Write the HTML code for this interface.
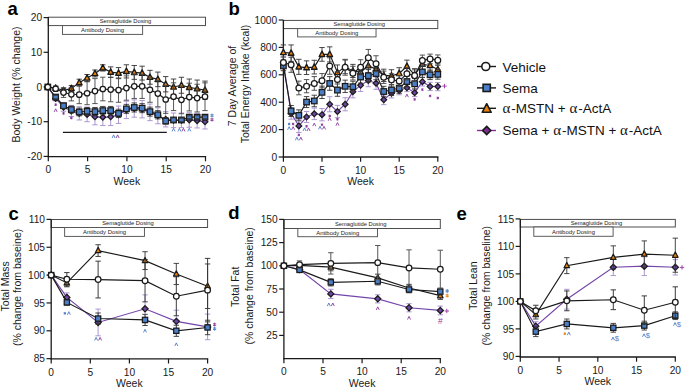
<!DOCTYPE html><html><head><meta charset="utf-8"><style>html,body{margin:0;padding:0;background:#fff;width:685px;height:388px;overflow:hidden}</style></head><body><svg width="685" height="388" viewBox="0 0 685 388" style="font-family:'Liberation Sans', sans-serif;display:block">
<rect width="685" height="388" fill="#fff"/>
<rect x="48.30" y="17.20" width="157.20" height="8.40" fill="#fff" stroke="#444" stroke-width="0.95"/>
<text x="125.50" y="23.30" font-size="6.2" text-anchor="middle" fill="#1a1a1a" font-weight="normal" textLength="51.5" lengthAdjust="spacingAndGlyphs">Semaglutide Dosing</text>
<rect x="62.52" y="25.60" width="80.10" height="8.80" fill="#fff" stroke="#555" stroke-width="0.95"/>
<text x="102.57" y="31.90" font-size="6.2" text-anchor="middle" fill="#1a1a1a" font-weight="normal" textLength="43" lengthAdjust="spacingAndGlyphs">Antibody Dosing</text>
<line x1="48.30" y1="17.00" x2="48.30" y2="157.20" stroke="#1a1a1a" stroke-width="1.3"/>
<line x1="47.70" y1="156.60" x2="206.10" y2="156.60" stroke="#1a1a1a" stroke-width="1.3"/>
<line x1="43.60" y1="17.60" x2="48.30" y2="17.60" stroke="#1a1a1a" stroke-width="1.2"/>
<text x="42.10" y="21.20" font-size="10.2" text-anchor="end" fill="#1a1a1a" font-weight="normal">20</text>
<line x1="43.60" y1="52.30" x2="48.30" y2="52.30" stroke="#1a1a1a" stroke-width="1.2"/>
<text x="42.10" y="55.90" font-size="10.2" text-anchor="end" fill="#1a1a1a" font-weight="normal">10</text>
<line x1="43.60" y1="87.00" x2="48.30" y2="87.00" stroke="#1a1a1a" stroke-width="1.2"/>
<text x="42.10" y="90.60" font-size="10.2" text-anchor="end" fill="#1a1a1a" font-weight="normal">0</text>
<line x1="43.60" y1="121.70" x2="48.30" y2="121.70" stroke="#1a1a1a" stroke-width="1.2"/>
<text x="42.10" y="125.30" font-size="10.2" text-anchor="end" fill="#1a1a1a" font-weight="normal">-10</text>
<line x1="43.60" y1="156.40" x2="48.30" y2="156.40" stroke="#1a1a1a" stroke-width="1.2"/>
<text x="42.10" y="160.00" font-size="10.2" text-anchor="end" fill="#1a1a1a" font-weight="normal">-20</text>
<line x1="48.30" y1="156.60" x2="48.30" y2="161.30" stroke="#1a1a1a" stroke-width="1.2"/>
<text x="48.30" y="173.40" font-size="10.2" text-anchor="middle" fill="#1a1a1a" font-weight="normal">0</text>
<line x1="87.60" y1="156.60" x2="87.60" y2="161.30" stroke="#1a1a1a" stroke-width="1.2"/>
<text x="87.60" y="173.40" font-size="10.2" text-anchor="middle" fill="#1a1a1a" font-weight="normal">5</text>
<line x1="126.90" y1="156.60" x2="126.90" y2="161.30" stroke="#1a1a1a" stroke-width="1.2"/>
<text x="126.90" y="173.40" font-size="10.2" text-anchor="middle" fill="#1a1a1a" font-weight="normal">10</text>
<line x1="166.20" y1="156.60" x2="166.20" y2="161.30" stroke="#1a1a1a" stroke-width="1.2"/>
<text x="166.20" y="173.40" font-size="10.2" text-anchor="middle" fill="#1a1a1a" font-weight="normal">15</text>
<line x1="205.50" y1="156.60" x2="205.50" y2="161.30" stroke="#1a1a1a" stroke-width="1.2"/>
<text x="205.50" y="173.40" font-size="10.2" text-anchor="middle" fill="#1a1a1a" font-weight="normal">20</text>
<text x="126.90" y="184.80" font-size="10.5" text-anchor="middle" fill="#1a1a1a" font-weight="normal">Week</text>
<text x="19.50" y="84.50" font-size="10.5" text-anchor="middle" fill="#1a1a1a" font-weight="normal" transform="rotate(-90 19.5 84.5)">Body Weight (% change)</text>
<text x="7.50" y="14.50" font-size="18.5" text-anchor="start" fill="#000" font-weight="bold">a</text>
<line x1="55.66" y1="96.02" x2="55.66" y2="100.88" stroke="#a58ccc" stroke-width="0.9"/>
<line x1="52.96" y1="96.02" x2="58.36" y2="96.02" stroke="#a58ccc" stroke-width="0.9"/>
<line x1="52.96" y1="100.88" x2="58.36" y2="100.88" stroke="#a58ccc" stroke-width="0.9"/>
<line x1="63.52" y1="102.96" x2="63.52" y2="111.29" stroke="#a58ccc" stroke-width="0.9"/>
<line x1="60.82" y1="102.96" x2="66.22" y2="102.96" stroke="#a58ccc" stroke-width="0.9"/>
<line x1="60.82" y1="111.29" x2="66.22" y2="111.29" stroke="#a58ccc" stroke-width="0.9"/>
<line x1="71.38" y1="105.39" x2="71.38" y2="116.50" stroke="#a58ccc" stroke-width="0.9"/>
<line x1="68.68" y1="105.39" x2="74.08" y2="105.39" stroke="#a58ccc" stroke-width="0.9"/>
<line x1="68.68" y1="116.50" x2="74.08" y2="116.50" stroke="#a58ccc" stroke-width="0.9"/>
<line x1="79.24" y1="106.78" x2="79.24" y2="119.97" stroke="#a58ccc" stroke-width="0.9"/>
<line x1="76.54" y1="106.78" x2="81.94" y2="106.78" stroke="#a58ccc" stroke-width="0.9"/>
<line x1="76.54" y1="119.97" x2="81.94" y2="119.97" stroke="#a58ccc" stroke-width="0.9"/>
<line x1="87.10" y1="107.13" x2="87.10" y2="121.70" stroke="#a58ccc" stroke-width="0.9"/>
<line x1="84.40" y1="107.13" x2="89.80" y2="107.13" stroke="#a58ccc" stroke-width="0.9"/>
<line x1="84.40" y1="121.70" x2="89.80" y2="121.70" stroke="#a58ccc" stroke-width="0.9"/>
<line x1="94.96" y1="108.86" x2="94.96" y2="124.82" stroke="#a58ccc" stroke-width="0.9"/>
<line x1="92.26" y1="108.86" x2="97.66" y2="108.86" stroke="#a58ccc" stroke-width="0.9"/>
<line x1="92.26" y1="124.82" x2="97.66" y2="124.82" stroke="#a58ccc" stroke-width="0.9"/>
<line x1="102.82" y1="108.86" x2="102.82" y2="125.52" stroke="#a58ccc" stroke-width="0.9"/>
<line x1="100.12" y1="108.86" x2="105.52" y2="108.86" stroke="#a58ccc" stroke-width="0.9"/>
<line x1="100.12" y1="125.52" x2="105.52" y2="125.52" stroke="#a58ccc" stroke-width="0.9"/>
<line x1="110.68" y1="108.17" x2="110.68" y2="125.52" stroke="#a58ccc" stroke-width="0.9"/>
<line x1="107.98" y1="108.17" x2="113.38" y2="108.17" stroke="#a58ccc" stroke-width="0.9"/>
<line x1="107.98" y1="125.52" x2="113.38" y2="125.52" stroke="#a58ccc" stroke-width="0.9"/>
<line x1="118.54" y1="106.09" x2="118.54" y2="123.44" stroke="#a58ccc" stroke-width="0.9"/>
<line x1="115.84" y1="106.09" x2="121.24" y2="106.09" stroke="#a58ccc" stroke-width="0.9"/>
<line x1="115.84" y1="123.44" x2="121.24" y2="123.44" stroke="#a58ccc" stroke-width="0.9"/>
<line x1="126.40" y1="101.23" x2="126.40" y2="118.58" stroke="#a58ccc" stroke-width="0.9"/>
<line x1="123.70" y1="101.23" x2="129.10" y2="101.23" stroke="#a58ccc" stroke-width="0.9"/>
<line x1="123.70" y1="118.58" x2="129.10" y2="118.58" stroke="#a58ccc" stroke-width="0.9"/>
<line x1="134.26" y1="99.84" x2="134.26" y2="117.19" stroke="#a58ccc" stroke-width="0.9"/>
<line x1="131.56" y1="99.84" x2="136.96" y2="99.84" stroke="#a58ccc" stroke-width="0.9"/>
<line x1="131.56" y1="117.19" x2="136.96" y2="117.19" stroke="#a58ccc" stroke-width="0.9"/>
<line x1="142.12" y1="100.53" x2="142.12" y2="117.88" stroke="#a58ccc" stroke-width="0.9"/>
<line x1="139.42" y1="100.53" x2="144.82" y2="100.53" stroke="#a58ccc" stroke-width="0.9"/>
<line x1="139.42" y1="117.88" x2="144.82" y2="117.88" stroke="#a58ccc" stroke-width="0.9"/>
<line x1="149.98" y1="104.00" x2="149.98" y2="120.66" stroke="#a58ccc" stroke-width="0.9"/>
<line x1="147.28" y1="104.00" x2="152.68" y2="104.00" stroke="#a58ccc" stroke-width="0.9"/>
<line x1="147.28" y1="120.66" x2="152.68" y2="120.66" stroke="#a58ccc" stroke-width="0.9"/>
<line x1="157.84" y1="107.82" x2="157.84" y2="123.78" stroke="#a58ccc" stroke-width="0.9"/>
<line x1="155.14" y1="107.82" x2="160.54" y2="107.82" stroke="#a58ccc" stroke-width="0.9"/>
<line x1="155.14" y1="123.78" x2="160.54" y2="123.78" stroke="#a58ccc" stroke-width="0.9"/>
<line x1="165.70" y1="111.64" x2="165.70" y2="126.91" stroke="#a58ccc" stroke-width="0.9"/>
<line x1="163.00" y1="111.64" x2="168.40" y2="111.64" stroke="#a58ccc" stroke-width="0.9"/>
<line x1="163.00" y1="126.91" x2="168.40" y2="126.91" stroke="#a58ccc" stroke-width="0.9"/>
<line x1="173.56" y1="113.03" x2="173.56" y2="127.60" stroke="#a58ccc" stroke-width="0.9"/>
<line x1="170.86" y1="113.03" x2="176.26" y2="113.03" stroke="#a58ccc" stroke-width="0.9"/>
<line x1="170.86" y1="127.60" x2="176.26" y2="127.60" stroke="#a58ccc" stroke-width="0.9"/>
<line x1="181.42" y1="113.03" x2="181.42" y2="127.60" stroke="#a58ccc" stroke-width="0.9"/>
<line x1="178.72" y1="113.03" x2="184.12" y2="113.03" stroke="#a58ccc" stroke-width="0.9"/>
<line x1="178.72" y1="127.60" x2="184.12" y2="127.60" stroke="#a58ccc" stroke-width="0.9"/>
<line x1="189.28" y1="112.68" x2="189.28" y2="127.25" stroke="#a58ccc" stroke-width="0.9"/>
<line x1="186.58" y1="112.68" x2="191.98" y2="112.68" stroke="#a58ccc" stroke-width="0.9"/>
<line x1="186.58" y1="127.25" x2="191.98" y2="127.25" stroke="#a58ccc" stroke-width="0.9"/>
<line x1="197.14" y1="113.37" x2="197.14" y2="127.95" stroke="#a58ccc" stroke-width="0.9"/>
<line x1="194.44" y1="113.37" x2="199.84" y2="113.37" stroke="#a58ccc" stroke-width="0.9"/>
<line x1="194.44" y1="127.95" x2="199.84" y2="127.95" stroke="#a58ccc" stroke-width="0.9"/>
<line x1="205.00" y1="114.41" x2="205.00" y2="128.99" stroke="#a58ccc" stroke-width="0.9"/>
<line x1="202.30" y1="114.41" x2="207.70" y2="114.41" stroke="#a58ccc" stroke-width="0.9"/>
<line x1="202.30" y1="128.99" x2="207.70" y2="128.99" stroke="#a58ccc" stroke-width="0.9"/>
<polyline points="47.80,87.00 55.66,98.45 63.52,107.13 71.38,110.94 79.24,113.37 87.10,114.41 94.96,116.84 102.82,117.19 110.68,116.84 118.54,114.76 126.40,109.90 134.26,108.51 142.12,109.21 149.98,112.33 157.84,115.80 165.70,119.27 173.56,120.31 181.42,120.31 189.28,119.97 197.14,120.66 205.00,121.70" fill="none" stroke="#7446aa" stroke-width="1.15"/>
<polygon points="47.80,84.12 50.67,87.00 47.80,89.88 44.92,87.00" fill="#6c46a0" stroke="#1a1a1a" stroke-width="1.25"/>
<polygon points="55.66,95.58 58.53,98.45 55.66,101.33 52.78,98.45" fill="#6c46a0" stroke="#1a1a1a" stroke-width="1.25"/>
<polygon points="63.52,104.25 66.39,107.13 63.52,110.00 60.64,107.13" fill="#6c46a0" stroke="#1a1a1a" stroke-width="1.25"/>
<polygon points="71.38,108.07 74.25,110.94 71.38,113.82 68.50,110.94" fill="#6c46a0" stroke="#1a1a1a" stroke-width="1.25"/>
<polygon points="79.24,110.50 82.11,113.37 79.24,116.25 76.36,113.37" fill="#6c46a0" stroke="#1a1a1a" stroke-width="1.25"/>
<polygon points="87.10,111.54 89.97,114.41 87.10,117.29 84.22,114.41" fill="#6c46a0" stroke="#1a1a1a" stroke-width="1.25"/>
<polygon points="94.96,113.97 97.84,116.84 94.96,119.72 92.09,116.84" fill="#6c46a0" stroke="#1a1a1a" stroke-width="1.25"/>
<polygon points="102.82,114.31 105.69,117.19 102.82,120.06 99.94,117.19" fill="#6c46a0" stroke="#1a1a1a" stroke-width="1.25"/>
<polygon points="110.68,113.97 113.56,116.84 110.68,119.72 107.81,116.84" fill="#6c46a0" stroke="#1a1a1a" stroke-width="1.25"/>
<polygon points="118.54,111.89 121.42,114.76 118.54,117.64 115.67,114.76" fill="#6c46a0" stroke="#1a1a1a" stroke-width="1.25"/>
<polygon points="126.40,107.03 129.28,109.90 126.40,112.78 123.53,109.90" fill="#6c46a0" stroke="#1a1a1a" stroke-width="1.25"/>
<polygon points="134.26,105.64 137.13,108.51 134.26,111.39 131.38,108.51" fill="#6c46a0" stroke="#1a1a1a" stroke-width="1.25"/>
<polygon points="142.12,106.33 145.00,109.21 142.12,112.08 139.25,109.21" fill="#6c46a0" stroke="#1a1a1a" stroke-width="1.25"/>
<polygon points="149.98,109.46 152.86,112.33 149.98,115.21 147.11,112.33" fill="#6c46a0" stroke="#1a1a1a" stroke-width="1.25"/>
<polygon points="157.84,112.93 160.72,115.80 157.84,118.68 154.97,115.80" fill="#6c46a0" stroke="#1a1a1a" stroke-width="1.25"/>
<polygon points="165.70,116.40 168.57,119.27 165.70,122.15 162.82,119.27" fill="#6c46a0" stroke="#1a1a1a" stroke-width="1.25"/>
<polygon points="173.56,117.44 176.44,120.31 173.56,123.19 170.69,120.31" fill="#6c46a0" stroke="#1a1a1a" stroke-width="1.25"/>
<polygon points="181.42,117.44 184.30,120.31 181.42,123.19 178.55,120.31" fill="#6c46a0" stroke="#1a1a1a" stroke-width="1.25"/>
<polygon points="189.28,117.09 192.16,119.97 189.28,122.84 186.41,119.97" fill="#6c46a0" stroke="#1a1a1a" stroke-width="1.25"/>
<polygon points="197.14,117.78 200.01,120.66 197.14,123.53 194.26,120.66" fill="#6c46a0" stroke="#1a1a1a" stroke-width="1.25"/>
<polygon points="205.00,118.83 207.88,121.70 205.00,124.58 202.12,121.70" fill="#6c46a0" stroke="#1a1a1a" stroke-width="1.25"/>
<line x1="55.66" y1="86.65" x2="55.66" y2="89.43" stroke="#333" stroke-width="0.9"/>
<line x1="52.96" y1="86.65" x2="58.36" y2="86.65" stroke="#333" stroke-width="0.9"/>
<line x1="52.96" y1="89.43" x2="58.36" y2="89.43" stroke="#333" stroke-width="0.9"/>
<line x1="63.52" y1="88.39" x2="63.52" y2="92.55" stroke="#333" stroke-width="0.9"/>
<line x1="60.82" y1="88.39" x2="66.22" y2="88.39" stroke="#333" stroke-width="0.9"/>
<line x1="60.82" y1="92.55" x2="66.22" y2="92.55" stroke="#333" stroke-width="0.9"/>
<line x1="71.38" y1="85.61" x2="71.38" y2="91.16" stroke="#333" stroke-width="0.9"/>
<line x1="68.68" y1="85.61" x2="74.08" y2="85.61" stroke="#333" stroke-width="0.9"/>
<line x1="68.68" y1="91.16" x2="74.08" y2="91.16" stroke="#333" stroke-width="0.9"/>
<line x1="79.24" y1="79.19" x2="79.24" y2="86.13" stroke="#333" stroke-width="0.9"/>
<line x1="76.54" y1="79.19" x2="81.94" y2="79.19" stroke="#333" stroke-width="0.9"/>
<line x1="76.54" y1="86.13" x2="81.94" y2="86.13" stroke="#333" stroke-width="0.9"/>
<line x1="87.10" y1="74.51" x2="87.10" y2="81.45" stroke="#333" stroke-width="0.9"/>
<line x1="84.40" y1="74.51" x2="89.80" y2="74.51" stroke="#333" stroke-width="0.9"/>
<line x1="84.40" y1="81.45" x2="89.80" y2="81.45" stroke="#333" stroke-width="0.9"/>
<line x1="94.96" y1="70.00" x2="94.96" y2="76.94" stroke="#333" stroke-width="0.9"/>
<line x1="92.26" y1="70.00" x2="97.66" y2="70.00" stroke="#333" stroke-width="0.9"/>
<line x1="92.26" y1="76.94" x2="97.66" y2="76.94" stroke="#333" stroke-width="0.9"/>
<line x1="102.82" y1="64.79" x2="102.82" y2="71.04" stroke="#333" stroke-width="0.9"/>
<line x1="100.12" y1="64.79" x2="105.52" y2="64.79" stroke="#333" stroke-width="0.9"/>
<line x1="100.12" y1="71.04" x2="105.52" y2="71.04" stroke="#333" stroke-width="0.9"/>
<line x1="110.68" y1="66.87" x2="110.68" y2="77.28" stroke="#333" stroke-width="0.9"/>
<line x1="107.98" y1="66.87" x2="113.38" y2="66.87" stroke="#333" stroke-width="0.9"/>
<line x1="107.98" y1="77.28" x2="113.38" y2="77.28" stroke="#333" stroke-width="0.9"/>
<line x1="118.54" y1="67.57" x2="118.54" y2="78.67" stroke="#333" stroke-width="0.9"/>
<line x1="115.84" y1="67.57" x2="121.24" y2="67.57" stroke="#333" stroke-width="0.9"/>
<line x1="115.84" y1="78.67" x2="121.24" y2="78.67" stroke="#333" stroke-width="0.9"/>
<line x1="126.40" y1="64.79" x2="126.40" y2="77.98" stroke="#333" stroke-width="0.9"/>
<line x1="123.70" y1="64.79" x2="129.10" y2="64.79" stroke="#333" stroke-width="0.9"/>
<line x1="123.70" y1="77.98" x2="129.10" y2="77.98" stroke="#333" stroke-width="0.9"/>
<line x1="134.26" y1="65.49" x2="134.26" y2="79.37" stroke="#333" stroke-width="0.9"/>
<line x1="131.56" y1="65.49" x2="136.96" y2="65.49" stroke="#333" stroke-width="0.9"/>
<line x1="131.56" y1="79.37" x2="136.96" y2="79.37" stroke="#333" stroke-width="0.9"/>
<line x1="142.12" y1="66.18" x2="142.12" y2="80.06" stroke="#333" stroke-width="0.9"/>
<line x1="139.42" y1="66.18" x2="144.82" y2="66.18" stroke="#333" stroke-width="0.9"/>
<line x1="139.42" y1="80.06" x2="144.82" y2="80.06" stroke="#333" stroke-width="0.9"/>
<line x1="149.98" y1="70.34" x2="149.98" y2="84.22" stroke="#333" stroke-width="0.9"/>
<line x1="147.28" y1="70.34" x2="152.68" y2="70.34" stroke="#333" stroke-width="0.9"/>
<line x1="147.28" y1="84.22" x2="152.68" y2="84.22" stroke="#333" stroke-width="0.9"/>
<line x1="157.84" y1="72.08" x2="157.84" y2="86.65" stroke="#333" stroke-width="0.9"/>
<line x1="155.14" y1="72.08" x2="160.54" y2="72.08" stroke="#333" stroke-width="0.9"/>
<line x1="155.14" y1="86.65" x2="160.54" y2="86.65" stroke="#333" stroke-width="0.9"/>
<line x1="165.70" y1="76.59" x2="165.70" y2="91.86" stroke="#333" stroke-width="0.9"/>
<line x1="163.00" y1="76.59" x2="168.40" y2="76.59" stroke="#333" stroke-width="0.9"/>
<line x1="163.00" y1="91.86" x2="168.40" y2="91.86" stroke="#333" stroke-width="0.9"/>
<line x1="173.56" y1="79.02" x2="173.56" y2="94.98" stroke="#333" stroke-width="0.9"/>
<line x1="170.86" y1="79.02" x2="176.26" y2="79.02" stroke="#333" stroke-width="0.9"/>
<line x1="170.86" y1="94.98" x2="176.26" y2="94.98" stroke="#333" stroke-width="0.9"/>
<line x1="181.42" y1="77.28" x2="181.42" y2="93.25" stroke="#333" stroke-width="0.9"/>
<line x1="178.72" y1="77.28" x2="184.12" y2="77.28" stroke="#333" stroke-width="0.9"/>
<line x1="178.72" y1="93.25" x2="184.12" y2="93.25" stroke="#333" stroke-width="0.9"/>
<line x1="189.28" y1="79.02" x2="189.28" y2="95.67" stroke="#333" stroke-width="0.9"/>
<line x1="186.58" y1="79.02" x2="191.98" y2="79.02" stroke="#333" stroke-width="0.9"/>
<line x1="186.58" y1="95.67" x2="191.98" y2="95.67" stroke="#333" stroke-width="0.9"/>
<line x1="197.14" y1="80.06" x2="197.14" y2="97.41" stroke="#333" stroke-width="0.9"/>
<line x1="194.44" y1="80.06" x2="199.84" y2="80.06" stroke="#333" stroke-width="0.9"/>
<line x1="194.44" y1="97.41" x2="199.84" y2="97.41" stroke="#333" stroke-width="0.9"/>
<line x1="205.00" y1="81.10" x2="205.00" y2="99.14" stroke="#333" stroke-width="0.9"/>
<line x1="202.30" y1="81.10" x2="207.70" y2="81.10" stroke="#333" stroke-width="0.9"/>
<line x1="202.30" y1="99.14" x2="207.70" y2="99.14" stroke="#333" stroke-width="0.9"/>
<polyline points="47.80,87.00 55.66,88.04 63.52,90.47 71.38,88.39 79.24,82.66 87.10,77.98 94.96,73.47 102.82,67.91 110.68,72.08 118.54,73.12 126.40,71.39 134.26,72.43 142.12,73.12 149.98,77.28 157.84,79.37 165.70,84.22 173.56,87.00 181.42,85.27 189.28,87.35 197.14,88.73 205.00,90.12" fill="none" stroke="#1a1a1a" stroke-width="1.15"/>
<polygon points="47.80,83.75 50.62,89.12 44.97,89.12" fill="#e8820e" stroke="#1a1a1a" stroke-width="1.35" stroke-linejoin="round"/>
<polygon points="55.66,84.79 58.48,90.16 52.83,90.16" fill="#e8820e" stroke="#1a1a1a" stroke-width="1.35" stroke-linejoin="round"/>
<polygon points="63.52,87.22 66.34,92.59 60.69,92.59" fill="#e8820e" stroke="#1a1a1a" stroke-width="1.35" stroke-linejoin="round"/>
<polygon points="71.38,85.14 74.20,90.51 68.55,90.51" fill="#e8820e" stroke="#1a1a1a" stroke-width="1.35" stroke-linejoin="round"/>
<polygon points="79.24,79.41 82.06,84.78 76.41,84.78" fill="#e8820e" stroke="#1a1a1a" stroke-width="1.35" stroke-linejoin="round"/>
<polygon points="87.10,74.73 89.92,80.10 84.27,80.10" fill="#e8820e" stroke="#1a1a1a" stroke-width="1.35" stroke-linejoin="round"/>
<polygon points="94.96,70.22 97.79,75.59 92.14,75.59" fill="#e8820e" stroke="#1a1a1a" stroke-width="1.35" stroke-linejoin="round"/>
<polygon points="102.82,64.67 105.64,70.03 99.99,70.03" fill="#e8820e" stroke="#1a1a1a" stroke-width="1.35" stroke-linejoin="round"/>
<polygon points="110.68,68.83 113.51,74.20 107.86,74.20" fill="#e8820e" stroke="#1a1a1a" stroke-width="1.35" stroke-linejoin="round"/>
<polygon points="118.54,69.87 121.37,75.24 115.72,75.24" fill="#e8820e" stroke="#1a1a1a" stroke-width="1.35" stroke-linejoin="round"/>
<polygon points="126.40,68.14 129.22,73.50 123.58,73.50" fill="#e8820e" stroke="#1a1a1a" stroke-width="1.35" stroke-linejoin="round"/>
<polygon points="134.26,69.18 137.08,74.54 131.44,74.54" fill="#e8820e" stroke="#1a1a1a" stroke-width="1.35" stroke-linejoin="round"/>
<polygon points="142.12,69.87 144.94,75.24 139.30,75.24" fill="#e8820e" stroke="#1a1a1a" stroke-width="1.35" stroke-linejoin="round"/>
<polygon points="149.98,74.04 152.81,79.40 147.16,79.40" fill="#e8820e" stroke="#1a1a1a" stroke-width="1.35" stroke-linejoin="round"/>
<polygon points="157.84,76.12 160.66,81.48 155.02,81.48" fill="#e8820e" stroke="#1a1a1a" stroke-width="1.35" stroke-linejoin="round"/>
<polygon points="165.70,80.98 168.52,86.34 162.88,86.34" fill="#e8820e" stroke="#1a1a1a" stroke-width="1.35" stroke-linejoin="round"/>
<polygon points="173.56,83.75 176.38,89.12 170.74,89.12" fill="#e8820e" stroke="#1a1a1a" stroke-width="1.35" stroke-linejoin="round"/>
<polygon points="181.42,82.02 184.25,87.38 178.60,87.38" fill="#e8820e" stroke="#1a1a1a" stroke-width="1.35" stroke-linejoin="round"/>
<polygon points="189.28,84.10 192.11,89.47 186.46,89.47" fill="#e8820e" stroke="#1a1a1a" stroke-width="1.35" stroke-linejoin="round"/>
<polygon points="197.14,85.49 199.96,90.85 194.31,90.85" fill="#e8820e" stroke="#1a1a1a" stroke-width="1.35" stroke-linejoin="round"/>
<polygon points="205.00,86.87 207.82,92.24 202.18,92.24" fill="#e8820e" stroke="#1a1a1a" stroke-width="1.35" stroke-linejoin="round"/>
<line x1="55.66" y1="95.33" x2="55.66" y2="98.80" stroke="#333" stroke-width="0.9"/>
<line x1="63.52" y1="102.96" x2="63.52" y2="108.51" stroke="#333" stroke-width="0.9"/>
<line x1="71.38" y1="106.09" x2="71.38" y2="113.03" stroke="#333" stroke-width="0.9"/>
<line x1="79.24" y1="108.17" x2="79.24" y2="115.80" stroke="#333" stroke-width="0.9"/>
<line x1="87.10" y1="107.47" x2="87.10" y2="115.11" stroke="#333" stroke-width="0.9"/>
<line x1="94.96" y1="107.47" x2="94.96" y2="115.80" stroke="#333" stroke-width="0.9"/>
<line x1="102.82" y1="106.43" x2="102.82" y2="114.76" stroke="#333" stroke-width="0.9"/>
<line x1="110.68" y1="106.43" x2="110.68" y2="114.76" stroke="#333" stroke-width="0.9"/>
<line x1="118.54" y1="109.21" x2="118.54" y2="117.54" stroke="#333" stroke-width="0.9"/>
<line x1="126.40" y1="104.35" x2="126.40" y2="113.37" stroke="#333" stroke-width="0.9"/>
<line x1="134.26" y1="102.96" x2="134.26" y2="111.98" stroke="#333" stroke-width="0.9"/>
<line x1="142.12" y1="103.66" x2="142.12" y2="112.68" stroke="#333" stroke-width="0.9"/>
<line x1="149.98" y1="107.13" x2="149.98" y2="116.15" stroke="#333" stroke-width="0.9"/>
<line x1="157.84" y1="110.60" x2="157.84" y2="118.92" stroke="#333" stroke-width="0.9"/>
<line x1="165.70" y1="117.88" x2="165.70" y2="124.13" stroke="#333" stroke-width="0.9"/>
<line x1="173.56" y1="117.88" x2="173.56" y2="122.05" stroke="#333" stroke-width="0.9"/>
<line x1="181.42" y1="118.23" x2="181.42" y2="121.70" stroke="#333" stroke-width="0.9"/>
<line x1="189.28" y1="115.80" x2="189.28" y2="118.58" stroke="#333" stroke-width="0.9"/>
<line x1="197.14" y1="115.80" x2="197.14" y2="118.58" stroke="#333" stroke-width="0.9"/>
<line x1="205.00" y1="115.80" x2="205.00" y2="118.58" stroke="#333" stroke-width="0.9"/>
<polyline points="47.80,87.00 55.66,97.06 63.52,105.74 71.38,109.56 79.24,111.98 87.10,111.29 94.96,111.64 102.82,110.60 110.68,110.60 118.54,113.37 126.40,108.86 134.26,107.47 142.12,108.17 149.98,111.64 157.84,114.76 165.70,121.01 173.56,119.97 181.42,119.97 189.28,117.19 197.14,117.19 205.00,117.19" fill="none" stroke="#1a1a1a" stroke-width="1.15"/>
<rect x="45.02" y="84.22" width="5.55" height="5.55" fill="#4a7ec6" stroke="#1a1a1a" stroke-width="1.25"/>
<rect x="52.88" y="94.29" width="5.55" height="5.55" fill="#4a7ec6" stroke="#1a1a1a" stroke-width="1.25"/>
<rect x="60.74" y="102.96" width="5.55" height="5.55" fill="#4a7ec6" stroke="#1a1a1a" stroke-width="1.25"/>
<rect x="68.60" y="106.78" width="5.55" height="5.55" fill="#4a7ec6" stroke="#1a1a1a" stroke-width="1.25"/>
<rect x="76.46" y="109.21" width="5.55" height="5.55" fill="#4a7ec6" stroke="#1a1a1a" stroke-width="1.25"/>
<rect x="84.32" y="108.52" width="5.55" height="5.55" fill="#4a7ec6" stroke="#1a1a1a" stroke-width="1.25"/>
<rect x="92.19" y="108.86" width="5.55" height="5.55" fill="#4a7ec6" stroke="#1a1a1a" stroke-width="1.25"/>
<rect x="100.04" y="107.82" width="5.55" height="5.55" fill="#4a7ec6" stroke="#1a1a1a" stroke-width="1.25"/>
<rect x="107.91" y="107.82" width="5.55" height="5.55" fill="#4a7ec6" stroke="#1a1a1a" stroke-width="1.25"/>
<rect x="115.77" y="110.60" width="5.55" height="5.55" fill="#4a7ec6" stroke="#1a1a1a" stroke-width="1.25"/>
<rect x="123.62" y="106.09" width="5.55" height="5.55" fill="#4a7ec6" stroke="#1a1a1a" stroke-width="1.25"/>
<rect x="131.48" y="104.70" width="5.55" height="5.55" fill="#4a7ec6" stroke="#1a1a1a" stroke-width="1.25"/>
<rect x="139.34" y="105.39" width="5.55" height="5.55" fill="#4a7ec6" stroke="#1a1a1a" stroke-width="1.25"/>
<rect x="147.21" y="108.86" width="5.55" height="5.55" fill="#4a7ec6" stroke="#1a1a1a" stroke-width="1.25"/>
<rect x="155.06" y="111.98" width="5.55" height="5.55" fill="#4a7ec6" stroke="#1a1a1a" stroke-width="1.25"/>
<rect x="162.92" y="118.23" width="5.55" height="5.55" fill="#4a7ec6" stroke="#1a1a1a" stroke-width="1.25"/>
<rect x="170.78" y="117.19" width="5.55" height="5.55" fill="#4a7ec6" stroke="#1a1a1a" stroke-width="1.25"/>
<rect x="178.65" y="117.19" width="5.55" height="5.55" fill="#4a7ec6" stroke="#1a1a1a" stroke-width="1.25"/>
<rect x="186.51" y="114.41" width="5.55" height="5.55" fill="#4a7ec6" stroke="#1a1a1a" stroke-width="1.25"/>
<rect x="194.36" y="114.41" width="5.55" height="5.55" fill="#4a7ec6" stroke="#1a1a1a" stroke-width="1.25"/>
<rect x="202.22" y="114.41" width="5.55" height="5.55" fill="#4a7ec6" stroke="#1a1a1a" stroke-width="1.25"/>
<line x1="52.96" y1="95.33" x2="58.36" y2="95.33" stroke="#333" stroke-width="0.9"/>
<line x1="52.96" y1="98.80" x2="58.36" y2="98.80" stroke="#333" stroke-width="0.9"/>
<line x1="60.82" y1="102.96" x2="66.22" y2="102.96" stroke="#333" stroke-width="0.9"/>
<line x1="60.82" y1="108.51" x2="66.22" y2="108.51" stroke="#333" stroke-width="0.9"/>
<line x1="68.68" y1="106.09" x2="74.08" y2="106.09" stroke="#333" stroke-width="0.9"/>
<line x1="68.68" y1="113.03" x2="74.08" y2="113.03" stroke="#333" stroke-width="0.9"/>
<line x1="76.54" y1="108.17" x2="81.94" y2="108.17" stroke="#333" stroke-width="0.9"/>
<line x1="76.54" y1="115.80" x2="81.94" y2="115.80" stroke="#333" stroke-width="0.9"/>
<line x1="84.40" y1="107.47" x2="89.80" y2="107.47" stroke="#333" stroke-width="0.9"/>
<line x1="84.40" y1="115.11" x2="89.80" y2="115.11" stroke="#333" stroke-width="0.9"/>
<line x1="92.26" y1="107.47" x2="97.66" y2="107.47" stroke="#333" stroke-width="0.9"/>
<line x1="92.26" y1="115.80" x2="97.66" y2="115.80" stroke="#333" stroke-width="0.9"/>
<line x1="100.12" y1="106.43" x2="105.52" y2="106.43" stroke="#333" stroke-width="0.9"/>
<line x1="100.12" y1="114.76" x2="105.52" y2="114.76" stroke="#333" stroke-width="0.9"/>
<line x1="107.98" y1="106.43" x2="113.38" y2="106.43" stroke="#333" stroke-width="0.9"/>
<line x1="107.98" y1="114.76" x2="113.38" y2="114.76" stroke="#333" stroke-width="0.9"/>
<line x1="115.84" y1="109.21" x2="121.24" y2="109.21" stroke="#333" stroke-width="0.9"/>
<line x1="115.84" y1="117.54" x2="121.24" y2="117.54" stroke="#333" stroke-width="0.9"/>
<line x1="123.70" y1="104.35" x2="129.10" y2="104.35" stroke="#333" stroke-width="0.9"/>
<line x1="123.70" y1="113.37" x2="129.10" y2="113.37" stroke="#333" stroke-width="0.9"/>
<line x1="131.56" y1="102.96" x2="136.96" y2="102.96" stroke="#333" stroke-width="0.9"/>
<line x1="131.56" y1="111.98" x2="136.96" y2="111.98" stroke="#333" stroke-width="0.9"/>
<line x1="139.42" y1="103.66" x2="144.82" y2="103.66" stroke="#333" stroke-width="0.9"/>
<line x1="139.42" y1="112.68" x2="144.82" y2="112.68" stroke="#333" stroke-width="0.9"/>
<line x1="147.28" y1="107.13" x2="152.68" y2="107.13" stroke="#333" stroke-width="0.9"/>
<line x1="147.28" y1="116.15" x2="152.68" y2="116.15" stroke="#333" stroke-width="0.9"/>
<line x1="155.14" y1="110.60" x2="160.54" y2="110.60" stroke="#333" stroke-width="0.9"/>
<line x1="155.14" y1="118.92" x2="160.54" y2="118.92" stroke="#333" stroke-width="0.9"/>
<line x1="163.00" y1="117.88" x2="168.40" y2="117.88" stroke="#333" stroke-width="0.9"/>
<line x1="163.00" y1="124.13" x2="168.40" y2="124.13" stroke="#333" stroke-width="0.9"/>
<line x1="170.86" y1="117.88" x2="176.26" y2="117.88" stroke="#333" stroke-width="0.9"/>
<line x1="170.86" y1="122.05" x2="176.26" y2="122.05" stroke="#333" stroke-width="0.9"/>
<line x1="178.72" y1="118.23" x2="184.12" y2="118.23" stroke="#333" stroke-width="0.9"/>
<line x1="178.72" y1="121.70" x2="184.12" y2="121.70" stroke="#333" stroke-width="0.9"/>
<line x1="186.58" y1="115.80" x2="191.98" y2="115.80" stroke="#333" stroke-width="0.9"/>
<line x1="186.58" y1="118.58" x2="191.98" y2="118.58" stroke="#333" stroke-width="0.9"/>
<line x1="194.44" y1="115.80" x2="199.84" y2="115.80" stroke="#333" stroke-width="0.9"/>
<line x1="194.44" y1="118.58" x2="199.84" y2="118.58" stroke="#333" stroke-width="0.9"/>
<line x1="202.30" y1="115.80" x2="207.70" y2="115.80" stroke="#333" stroke-width="0.9"/>
<line x1="202.30" y1="118.58" x2="207.70" y2="118.58" stroke="#333" stroke-width="0.9"/>
<line x1="55.66" y1="85.96" x2="55.66" y2="91.51" stroke="#444" stroke-width="0.9"/>
<line x1="52.96" y1="85.96" x2="58.36" y2="85.96" stroke="#444" stroke-width="0.9"/>
<line x1="52.96" y1="91.51" x2="58.36" y2="91.51" stroke="#444" stroke-width="0.9"/>
<line x1="63.52" y1="87.69" x2="63.52" y2="97.41" stroke="#444" stroke-width="0.9"/>
<line x1="60.82" y1="87.69" x2="66.22" y2="87.69" stroke="#444" stroke-width="0.9"/>
<line x1="60.82" y1="97.41" x2="66.22" y2="97.41" stroke="#444" stroke-width="0.9"/>
<line x1="71.38" y1="87.69" x2="71.38" y2="100.88" stroke="#444" stroke-width="0.9"/>
<line x1="68.68" y1="87.69" x2="74.08" y2="87.69" stroke="#444" stroke-width="0.9"/>
<line x1="68.68" y1="100.88" x2="74.08" y2="100.88" stroke="#444" stroke-width="0.9"/>
<line x1="79.24" y1="85.61" x2="79.24" y2="103.66" stroke="#444" stroke-width="0.9"/>
<line x1="76.54" y1="85.61" x2="81.94" y2="85.61" stroke="#444" stroke-width="0.9"/>
<line x1="76.54" y1="103.66" x2="81.94" y2="103.66" stroke="#444" stroke-width="0.9"/>
<line x1="87.10" y1="81.80" x2="87.10" y2="104.70" stroke="#444" stroke-width="0.9"/>
<line x1="84.40" y1="81.80" x2="89.80" y2="81.80" stroke="#444" stroke-width="0.9"/>
<line x1="84.40" y1="104.70" x2="89.80" y2="104.70" stroke="#444" stroke-width="0.9"/>
<line x1="94.96" y1="78.60" x2="94.96" y2="103.59" stroke="#444" stroke-width="0.9"/>
<line x1="92.26" y1="78.60" x2="97.66" y2="78.60" stroke="#444" stroke-width="0.9"/>
<line x1="92.26" y1="103.59" x2="97.66" y2="103.59" stroke="#444" stroke-width="0.9"/>
<line x1="102.82" y1="77.21" x2="102.82" y2="100.81" stroke="#444" stroke-width="0.9"/>
<line x1="100.12" y1="77.21" x2="105.52" y2="77.21" stroke="#444" stroke-width="0.9"/>
<line x1="100.12" y1="100.81" x2="105.52" y2="100.81" stroke="#444" stroke-width="0.9"/>
<line x1="110.68" y1="77.46" x2="110.68" y2="101.75" stroke="#444" stroke-width="0.9"/>
<line x1="107.98" y1="77.46" x2="113.38" y2="77.46" stroke="#444" stroke-width="0.9"/>
<line x1="107.98" y1="101.75" x2="113.38" y2="101.75" stroke="#444" stroke-width="0.9"/>
<line x1="118.54" y1="77.98" x2="118.54" y2="102.27" stroke="#444" stroke-width="0.9"/>
<line x1="115.84" y1="77.98" x2="121.24" y2="77.98" stroke="#444" stroke-width="0.9"/>
<line x1="115.84" y1="102.27" x2="121.24" y2="102.27" stroke="#444" stroke-width="0.9"/>
<line x1="126.40" y1="75.90" x2="126.40" y2="100.19" stroke="#444" stroke-width="0.9"/>
<line x1="123.70" y1="75.90" x2="129.10" y2="75.90" stroke="#444" stroke-width="0.9"/>
<line x1="123.70" y1="100.19" x2="129.10" y2="100.19" stroke="#444" stroke-width="0.9"/>
<line x1="134.26" y1="74.16" x2="134.26" y2="98.45" stroke="#444" stroke-width="0.9"/>
<line x1="131.56" y1="74.16" x2="136.96" y2="74.16" stroke="#444" stroke-width="0.9"/>
<line x1="131.56" y1="98.45" x2="136.96" y2="98.45" stroke="#444" stroke-width="0.9"/>
<line x1="142.12" y1="74.16" x2="142.12" y2="98.45" stroke="#444" stroke-width="0.9"/>
<line x1="139.42" y1="74.16" x2="144.82" y2="74.16" stroke="#444" stroke-width="0.9"/>
<line x1="139.42" y1="98.45" x2="144.82" y2="98.45" stroke="#444" stroke-width="0.9"/>
<line x1="149.98" y1="77.28" x2="149.98" y2="102.27" stroke="#444" stroke-width="0.9"/>
<line x1="147.28" y1="77.28" x2="152.68" y2="77.28" stroke="#444" stroke-width="0.9"/>
<line x1="147.28" y1="102.27" x2="152.68" y2="102.27" stroke="#444" stroke-width="0.9"/>
<line x1="157.84" y1="80.41" x2="157.84" y2="106.78" stroke="#444" stroke-width="0.9"/>
<line x1="155.14" y1="80.41" x2="160.54" y2="80.41" stroke="#444" stroke-width="0.9"/>
<line x1="155.14" y1="106.78" x2="160.54" y2="106.78" stroke="#444" stroke-width="0.9"/>
<line x1="165.70" y1="85.61" x2="165.70" y2="113.37" stroke="#444" stroke-width="0.9"/>
<line x1="163.00" y1="85.61" x2="168.40" y2="85.61" stroke="#444" stroke-width="0.9"/>
<line x1="163.00" y1="113.37" x2="168.40" y2="113.37" stroke="#444" stroke-width="0.9"/>
<line x1="173.56" y1="82.84" x2="173.56" y2="110.60" stroke="#444" stroke-width="0.9"/>
<line x1="170.86" y1="82.84" x2="176.26" y2="82.84" stroke="#444" stroke-width="0.9"/>
<line x1="170.86" y1="110.60" x2="176.26" y2="110.60" stroke="#444" stroke-width="0.9"/>
<line x1="181.42" y1="85.96" x2="181.42" y2="113.72" stroke="#444" stroke-width="0.9"/>
<line x1="178.72" y1="85.96" x2="184.12" y2="85.96" stroke="#444" stroke-width="0.9"/>
<line x1="178.72" y1="113.72" x2="184.12" y2="113.72" stroke="#444" stroke-width="0.9"/>
<line x1="189.28" y1="83.18" x2="189.28" y2="110.94" stroke="#444" stroke-width="0.9"/>
<line x1="186.58" y1="83.18" x2="191.98" y2="83.18" stroke="#444" stroke-width="0.9"/>
<line x1="186.58" y1="110.94" x2="191.98" y2="110.94" stroke="#444" stroke-width="0.9"/>
<line x1="197.14" y1="84.22" x2="197.14" y2="111.98" stroke="#444" stroke-width="0.9"/>
<line x1="194.44" y1="84.22" x2="199.84" y2="84.22" stroke="#444" stroke-width="0.9"/>
<line x1="194.44" y1="111.98" x2="199.84" y2="111.98" stroke="#444" stroke-width="0.9"/>
<line x1="205.00" y1="82.84" x2="205.00" y2="110.60" stroke="#444" stroke-width="0.9"/>
<line x1="202.30" y1="82.84" x2="207.70" y2="82.84" stroke="#444" stroke-width="0.9"/>
<line x1="202.30" y1="110.60" x2="207.70" y2="110.60" stroke="#444" stroke-width="0.9"/>
<polyline points="47.80,87.00 55.66,88.73 63.52,92.55 71.38,94.29 79.24,94.63 87.10,93.25 94.96,91.09 102.82,89.01 110.68,89.60 118.54,90.12 126.40,88.04 134.26,86.31 142.12,86.31 149.98,89.78 157.84,93.59 165.70,99.49 173.56,96.72 181.42,99.84 189.28,97.06 197.14,98.10 205.00,96.72" fill="none" stroke="#1a1a1a" stroke-width="1.15"/>
<circle cx="47.80" cy="87.00" r="2.73" fill="#fff" stroke="#1a1a1a" stroke-width="1.25"/>
<circle cx="55.66" cy="88.73" r="2.73" fill="#fff" stroke="#1a1a1a" stroke-width="1.25"/>
<circle cx="63.52" cy="92.55" r="2.73" fill="#fff" stroke="#1a1a1a" stroke-width="1.25"/>
<circle cx="71.38" cy="94.29" r="2.73" fill="#fff" stroke="#1a1a1a" stroke-width="1.25"/>
<circle cx="79.24" cy="94.63" r="2.73" fill="#fff" stroke="#1a1a1a" stroke-width="1.25"/>
<circle cx="87.10" cy="93.25" r="2.73" fill="#fff" stroke="#1a1a1a" stroke-width="1.25"/>
<circle cx="94.96" cy="91.09" r="2.73" fill="#fff" stroke="#1a1a1a" stroke-width="1.25"/>
<circle cx="102.82" cy="89.01" r="2.73" fill="#fff" stroke="#1a1a1a" stroke-width="1.25"/>
<circle cx="110.68" cy="89.60" r="2.73" fill="#fff" stroke="#1a1a1a" stroke-width="1.25"/>
<circle cx="118.54" cy="90.12" r="2.73" fill="#fff" stroke="#1a1a1a" stroke-width="1.25"/>
<circle cx="126.40" cy="88.04" r="2.73" fill="#fff" stroke="#1a1a1a" stroke-width="1.25"/>
<circle cx="134.26" cy="86.31" r="2.73" fill="#fff" stroke="#1a1a1a" stroke-width="1.25"/>
<circle cx="142.12" cy="86.31" r="2.73" fill="#fff" stroke="#1a1a1a" stroke-width="1.25"/>
<circle cx="149.98" cy="89.78" r="2.73" fill="#fff" stroke="#1a1a1a" stroke-width="1.25"/>
<circle cx="157.84" cy="93.59" r="2.73" fill="#fff" stroke="#1a1a1a" stroke-width="1.25"/>
<circle cx="165.70" cy="99.49" r="2.73" fill="#fff" stroke="#1a1a1a" stroke-width="1.25"/>
<circle cx="173.56" cy="96.72" r="2.73" fill="#fff" stroke="#1a1a1a" stroke-width="1.25"/>
<circle cx="181.42" cy="99.84" r="2.73" fill="#fff" stroke="#1a1a1a" stroke-width="1.25"/>
<circle cx="189.28" cy="97.06" r="2.73" fill="#fff" stroke="#1a1a1a" stroke-width="1.25"/>
<circle cx="197.14" cy="98.10" r="2.73" fill="#fff" stroke="#1a1a1a" stroke-width="1.25"/>
<circle cx="205.00" cy="96.72" r="2.73" fill="#fff" stroke="#1a1a1a" stroke-width="1.25"/>
<path d="M55.66,103.35V106.05M54.49,104.03L56.83,105.38M54.49,105.38L56.83,104.03" stroke="#8c3c9e" stroke-width="1.0" fill="none"/>
<polyline points="54.16,111.90 55.66,108.80 57.16,111.90" fill="none" stroke="#8c3c9e" stroke-width="0.9"/>
<path d="M63.52,112.05V114.75M62.35,112.73L64.69,114.08M62.35,114.08L64.69,112.73" stroke="#8c3c9e" stroke-width="1.0" fill="none"/>
<path d="M71.38,116.65V119.35M70.21,117.33L72.55,118.67M70.21,118.67L72.55,117.33" stroke="#8c3c9e" stroke-width="1.0" fill="none"/>
<line x1="62.90" y1="132.30" x2="166.80" y2="132.30" stroke="#1a1a1a" stroke-width="1.3"/>
<polyline points="112.10,138.00 113.60,134.90 115.10,138.00" fill="none" stroke="#4a7ec6" stroke-width="0.9"/>
<polyline points="116.10,138.00 117.60,134.90 119.10,138.00" fill="none" stroke="#8c3c9e" stroke-width="0.9"/>
<polyline points="172.06,131.40 173.56,128.30 175.06,131.40" fill="none" stroke="#4a7ec6" stroke-width="0.9"/>
<polyline points="177.92,131.40 179.42,128.30 180.92,131.40" fill="none" stroke="#4a7ec6" stroke-width="0.9"/>
<polyline points="181.92,131.40 183.42,128.30 184.92,131.40" fill="none" stroke="#8c3c9e" stroke-width="0.9"/>
<polyline points="187.78,131.40 189.28,128.30 190.78,131.40" fill="none" stroke="#4a7ec6" stroke-width="0.9"/>
<path d="M212.00,113.60V117.40M210.40,114.75H213.60M210.40,116.25H213.60" stroke="#4a7ec6" stroke-width="0.9" fill="none"/>
<path d="M212.00,117.80V121.60M210.40,118.95H213.60M210.40,120.45H213.60" stroke="#8c3c9e" stroke-width="0.9" fill="none"/>
<rect x="283.40" y="20.40" width="154.40" height="8.20" fill="#fff" stroke="#444" stroke-width="0.95"/>
<text x="359.20" y="26.40" font-size="6.2" text-anchor="middle" fill="#1a1a1a" font-weight="normal" textLength="51.5" lengthAdjust="spacingAndGlyphs">Semaglutide Dosing</text>
<rect x="297.64" y="28.60" width="78.40" height="8.30" fill="#fff" stroke="#555" stroke-width="0.95"/>
<text x="336.84" y="34.65" font-size="6.2" text-anchor="middle" fill="#1a1a1a" font-weight="normal" textLength="43" lengthAdjust="spacingAndGlyphs">Antibody Dosing</text>
<line x1="283.40" y1="20.00" x2="283.40" y2="157.60" stroke="#1a1a1a" stroke-width="1.3"/>
<line x1="282.80" y1="157.00" x2="438.40" y2="157.00" stroke="#1a1a1a" stroke-width="1.3"/>
<line x1="278.70" y1="20.00" x2="283.40" y2="20.00" stroke="#1a1a1a" stroke-width="1.2"/>
<text x="277.20" y="23.60" font-size="10.2" text-anchor="end" fill="#1a1a1a" font-weight="normal">1000</text>
<line x1="278.70" y1="47.40" x2="283.40" y2="47.40" stroke="#1a1a1a" stroke-width="1.2"/>
<text x="277.20" y="51.00" font-size="10.2" text-anchor="end" fill="#1a1a1a" font-weight="normal">800</text>
<line x1="278.70" y1="74.80" x2="283.40" y2="74.80" stroke="#1a1a1a" stroke-width="1.2"/>
<text x="277.20" y="78.40" font-size="10.2" text-anchor="end" fill="#1a1a1a" font-weight="normal">600</text>
<line x1="278.70" y1="102.20" x2="283.40" y2="102.20" stroke="#1a1a1a" stroke-width="1.2"/>
<text x="277.20" y="105.80" font-size="10.2" text-anchor="end" fill="#1a1a1a" font-weight="normal">400</text>
<line x1="278.70" y1="129.60" x2="283.40" y2="129.60" stroke="#1a1a1a" stroke-width="1.2"/>
<text x="277.20" y="133.20" font-size="10.2" text-anchor="end" fill="#1a1a1a" font-weight="normal">200</text>
<line x1="278.70" y1="157.00" x2="283.40" y2="157.00" stroke="#1a1a1a" stroke-width="1.2"/>
<text x="277.20" y="160.60" font-size="10.2" text-anchor="end" fill="#1a1a1a" font-weight="normal">0</text>
<line x1="283.40" y1="157.00" x2="283.40" y2="161.70" stroke="#1a1a1a" stroke-width="1.2"/>
<text x="283.40" y="173.80" font-size="10.2" text-anchor="middle" fill="#1a1a1a" font-weight="normal">0</text>
<line x1="322.00" y1="157.00" x2="322.00" y2="161.70" stroke="#1a1a1a" stroke-width="1.2"/>
<text x="322.00" y="173.80" font-size="10.2" text-anchor="middle" fill="#1a1a1a" font-weight="normal">5</text>
<line x1="360.60" y1="157.00" x2="360.60" y2="161.70" stroke="#1a1a1a" stroke-width="1.2"/>
<text x="360.60" y="173.80" font-size="10.2" text-anchor="middle" fill="#1a1a1a" font-weight="normal">10</text>
<line x1="399.20" y1="157.00" x2="399.20" y2="161.70" stroke="#1a1a1a" stroke-width="1.2"/>
<text x="399.20" y="173.80" font-size="10.2" text-anchor="middle" fill="#1a1a1a" font-weight="normal">15</text>
<line x1="437.80" y1="157.00" x2="437.80" y2="161.70" stroke="#1a1a1a" stroke-width="1.2"/>
<text x="437.80" y="173.80" font-size="10.2" text-anchor="middle" fill="#1a1a1a" font-weight="normal">20</text>
<text x="360.60" y="185.20" font-size="10.5" text-anchor="middle" fill="#1a1a1a" font-weight="normal">Week</text>
<text x="236.30" y="86.00" font-size="10.5" text-anchor="middle" fill="#1a1a1a" font-weight="normal" transform="rotate(-90 236.3 86.0)">7 Day Average of</text>
<text x="249.00" y="84.00" font-size="10.5" text-anchor="middle" fill="#1a1a1a" font-weight="normal" transform="rotate(-90 249.0 84.0)">Total Energy Intake (kcal)</text>
<text x="228.50" y="14.50" font-size="18.5" text-anchor="start" fill="#000" font-weight="bold">b</text>
<line x1="283.40" y1="56.99" x2="283.40" y2="67.95" stroke="#a58ccc" stroke-width="0.9"/>
<line x1="280.70" y1="56.99" x2="286.10" y2="56.99" stroke="#a58ccc" stroke-width="0.9"/>
<line x1="280.70" y1="67.95" x2="286.10" y2="67.95" stroke="#a58ccc" stroke-width="0.9"/>
<line x1="291.12" y1="107.68" x2="291.12" y2="119.19" stroke="#a58ccc" stroke-width="0.9"/>
<line x1="288.42" y1="107.68" x2="293.82" y2="107.68" stroke="#a58ccc" stroke-width="0.9"/>
<line x1="288.42" y1="119.19" x2="293.82" y2="119.19" stroke="#a58ccc" stroke-width="0.9"/>
<line x1="298.84" y1="119.32" x2="298.84" y2="132.48" stroke="#a58ccc" stroke-width="0.9"/>
<line x1="296.14" y1="119.32" x2="301.54" y2="119.32" stroke="#a58ccc" stroke-width="0.9"/>
<line x1="296.14" y1="132.48" x2="301.54" y2="132.48" stroke="#a58ccc" stroke-width="0.9"/>
<line x1="306.56" y1="111.52" x2="306.56" y2="122.48" stroke="#a58ccc" stroke-width="0.9"/>
<line x1="303.86" y1="111.52" x2="309.26" y2="111.52" stroke="#a58ccc" stroke-width="0.9"/>
<line x1="303.86" y1="122.48" x2="309.26" y2="122.48" stroke="#a58ccc" stroke-width="0.9"/>
<line x1="314.28" y1="108.09" x2="314.28" y2="119.60" stroke="#a58ccc" stroke-width="0.9"/>
<line x1="311.58" y1="108.09" x2="316.98" y2="108.09" stroke="#a58ccc" stroke-width="0.9"/>
<line x1="311.58" y1="119.60" x2="316.98" y2="119.60" stroke="#a58ccc" stroke-width="0.9"/>
<line x1="322.00" y1="108.50" x2="322.00" y2="120.83" stroke="#a58ccc" stroke-width="0.9"/>
<line x1="319.30" y1="108.50" x2="324.70" y2="108.50" stroke="#a58ccc" stroke-width="0.9"/>
<line x1="319.30" y1="120.83" x2="324.70" y2="120.83" stroke="#a58ccc" stroke-width="0.9"/>
<line x1="329.72" y1="96.72" x2="329.72" y2="111.79" stroke="#a58ccc" stroke-width="0.9"/>
<line x1="327.02" y1="96.72" x2="332.42" y2="96.72" stroke="#a58ccc" stroke-width="0.9"/>
<line x1="327.02" y1="111.79" x2="332.42" y2="111.79" stroke="#a58ccc" stroke-width="0.9"/>
<line x1="337.44" y1="105.35" x2="337.44" y2="117.68" stroke="#a58ccc" stroke-width="0.9"/>
<line x1="334.74" y1="105.35" x2="340.14" y2="105.35" stroke="#a58ccc" stroke-width="0.9"/>
<line x1="334.74" y1="117.68" x2="340.14" y2="117.68" stroke="#a58ccc" stroke-width="0.9"/>
<line x1="345.16" y1="97.68" x2="345.16" y2="110.83" stroke="#a58ccc" stroke-width="0.9"/>
<line x1="342.46" y1="97.68" x2="347.86" y2="97.68" stroke="#a58ccc" stroke-width="0.9"/>
<line x1="342.46" y1="110.83" x2="347.86" y2="110.83" stroke="#a58ccc" stroke-width="0.9"/>
<line x1="352.88" y1="85.49" x2="352.88" y2="97.82" stroke="#a58ccc" stroke-width="0.9"/>
<line x1="350.18" y1="85.49" x2="355.58" y2="85.49" stroke="#a58ccc" stroke-width="0.9"/>
<line x1="350.18" y1="97.82" x2="355.58" y2="97.82" stroke="#a58ccc" stroke-width="0.9"/>
<line x1="360.60" y1="79.18" x2="360.60" y2="91.51" stroke="#a58ccc" stroke-width="0.9"/>
<line x1="357.90" y1="79.18" x2="363.30" y2="79.18" stroke="#a58ccc" stroke-width="0.9"/>
<line x1="357.90" y1="91.51" x2="363.30" y2="91.51" stroke="#a58ccc" stroke-width="0.9"/>
<line x1="368.32" y1="74.39" x2="368.32" y2="86.72" stroke="#a58ccc" stroke-width="0.9"/>
<line x1="365.62" y1="74.39" x2="371.02" y2="74.39" stroke="#a58ccc" stroke-width="0.9"/>
<line x1="365.62" y1="86.72" x2="371.02" y2="86.72" stroke="#a58ccc" stroke-width="0.9"/>
<line x1="376.04" y1="76.99" x2="376.04" y2="89.32" stroke="#a58ccc" stroke-width="0.9"/>
<line x1="373.34" y1="76.99" x2="378.74" y2="76.99" stroke="#a58ccc" stroke-width="0.9"/>
<line x1="373.34" y1="89.32" x2="378.74" y2="89.32" stroke="#a58ccc" stroke-width="0.9"/>
<line x1="383.76" y1="94.80" x2="383.76" y2="104.67" stroke="#a58ccc" stroke-width="0.9"/>
<line x1="381.06" y1="94.80" x2="386.46" y2="94.80" stroke="#a58ccc" stroke-width="0.9"/>
<line x1="381.06" y1="104.67" x2="386.46" y2="104.67" stroke="#a58ccc" stroke-width="0.9"/>
<line x1="391.48" y1="88.36" x2="391.48" y2="97.95" stroke="#a58ccc" stroke-width="0.9"/>
<line x1="388.78" y1="88.36" x2="394.18" y2="88.36" stroke="#a58ccc" stroke-width="0.9"/>
<line x1="388.78" y1="97.95" x2="394.18" y2="97.95" stroke="#a58ccc" stroke-width="0.9"/>
<line x1="399.20" y1="86.03" x2="399.20" y2="94.80" stroke="#a58ccc" stroke-width="0.9"/>
<line x1="396.50" y1="86.03" x2="401.90" y2="86.03" stroke="#a58ccc" stroke-width="0.9"/>
<line x1="396.50" y1="94.80" x2="401.90" y2="94.80" stroke="#a58ccc" stroke-width="0.9"/>
<line x1="406.92" y1="83.98" x2="406.92" y2="91.65" stroke="#a58ccc" stroke-width="0.9"/>
<line x1="404.22" y1="83.98" x2="409.62" y2="83.98" stroke="#a58ccc" stroke-width="0.9"/>
<line x1="404.22" y1="91.65" x2="409.62" y2="91.65" stroke="#a58ccc" stroke-width="0.9"/>
<line x1="414.64" y1="88.91" x2="414.64" y2="96.58" stroke="#a58ccc" stroke-width="0.9"/>
<line x1="411.94" y1="88.91" x2="417.34" y2="88.91" stroke="#a58ccc" stroke-width="0.9"/>
<line x1="411.94" y1="96.58" x2="417.34" y2="96.58" stroke="#a58ccc" stroke-width="0.9"/>
<line x1="422.36" y1="77.27" x2="422.36" y2="86.03" stroke="#a58ccc" stroke-width="0.9"/>
<line x1="419.66" y1="77.27" x2="425.06" y2="77.27" stroke="#a58ccc" stroke-width="0.9"/>
<line x1="419.66" y1="86.03" x2="425.06" y2="86.03" stroke="#a58ccc" stroke-width="0.9"/>
<line x1="430.08" y1="82.33" x2="430.08" y2="90.55" stroke="#a58ccc" stroke-width="0.9"/>
<line x1="427.38" y1="82.33" x2="432.78" y2="82.33" stroke="#a58ccc" stroke-width="0.9"/>
<line x1="427.38" y1="90.55" x2="432.78" y2="90.55" stroke="#a58ccc" stroke-width="0.9"/>
<line x1="437.80" y1="82.47" x2="437.80" y2="90.69" stroke="#a58ccc" stroke-width="0.9"/>
<line x1="435.10" y1="82.47" x2="440.50" y2="82.47" stroke="#a58ccc" stroke-width="0.9"/>
<line x1="435.10" y1="90.69" x2="440.50" y2="90.69" stroke="#a58ccc" stroke-width="0.9"/>
<polyline points="283.40,62.47 291.12,113.43 298.84,125.90 306.56,117.00 314.28,113.84 322.00,114.67 329.72,104.25 337.44,111.52 345.16,104.25 352.88,91.65 360.60,85.35 368.32,80.55 376.04,83.16 383.76,99.73 391.48,93.16 399.20,90.42 406.92,87.81 414.64,92.75 422.36,81.65 430.08,86.44 437.80,86.58" fill="none" stroke="#7446aa" stroke-width="1.15"/>
<polygon points="283.40,59.59 286.27,62.47 283.40,65.34 280.52,62.47" fill="#6c46a0" stroke="#1a1a1a" stroke-width="1.25"/>
<polygon points="291.12,110.56 294.00,113.43 291.12,116.31 288.25,113.43" fill="#6c46a0" stroke="#1a1a1a" stroke-width="1.25"/>
<polygon points="298.84,123.03 301.71,125.90 298.84,128.78 295.96,125.90" fill="#6c46a0" stroke="#1a1a1a" stroke-width="1.25"/>
<polygon points="306.56,114.12 309.44,117.00 306.56,119.87 303.69,117.00" fill="#6c46a0" stroke="#1a1a1a" stroke-width="1.25"/>
<polygon points="314.28,110.97 317.15,113.84 314.28,116.72 311.40,113.84" fill="#6c46a0" stroke="#1a1a1a" stroke-width="1.25"/>
<polygon points="322.00,111.79 324.88,114.67 322.00,117.54 319.12,114.67" fill="#6c46a0" stroke="#1a1a1a" stroke-width="1.25"/>
<polygon points="329.72,101.38 332.59,104.25 329.72,107.13 326.84,104.25" fill="#6c46a0" stroke="#1a1a1a" stroke-width="1.25"/>
<polygon points="337.44,108.64 340.31,111.52 337.44,114.39 334.56,111.52" fill="#6c46a0" stroke="#1a1a1a" stroke-width="1.25"/>
<polygon points="345.16,101.38 348.03,104.25 345.16,107.13 342.28,104.25" fill="#6c46a0" stroke="#1a1a1a" stroke-width="1.25"/>
<polygon points="352.88,88.78 355.75,91.65 352.88,94.53 350.00,91.65" fill="#6c46a0" stroke="#1a1a1a" stroke-width="1.25"/>
<polygon points="360.60,82.47 363.47,85.35 360.60,88.22 357.72,85.35" fill="#6c46a0" stroke="#1a1a1a" stroke-width="1.25"/>
<polygon points="368.32,77.68 371.19,80.55 368.32,83.43 365.44,80.55" fill="#6c46a0" stroke="#1a1a1a" stroke-width="1.25"/>
<polygon points="376.04,80.28 378.91,83.16 376.04,86.03 373.16,83.16" fill="#6c46a0" stroke="#1a1a1a" stroke-width="1.25"/>
<polygon points="383.76,96.86 386.63,99.73 383.76,102.61 380.88,99.73" fill="#6c46a0" stroke="#1a1a1a" stroke-width="1.25"/>
<polygon points="391.48,90.28 394.35,93.16 391.48,96.03 388.60,93.16" fill="#6c46a0" stroke="#1a1a1a" stroke-width="1.25"/>
<polygon points="399.20,87.54 402.07,90.42 399.20,93.29 396.32,90.42" fill="#6c46a0" stroke="#1a1a1a" stroke-width="1.25"/>
<polygon points="406.92,84.94 409.79,87.81 406.92,90.69 404.04,87.81" fill="#6c46a0" stroke="#1a1a1a" stroke-width="1.25"/>
<polygon points="414.64,89.87 417.51,92.75 414.64,95.62 411.76,92.75" fill="#6c46a0" stroke="#1a1a1a" stroke-width="1.25"/>
<polygon points="422.36,78.77 425.24,81.65 422.36,84.52 419.49,81.65" fill="#6c46a0" stroke="#1a1a1a" stroke-width="1.25"/>
<polygon points="430.08,83.57 432.95,86.44 430.08,89.32 427.20,86.44" fill="#6c46a0" stroke="#1a1a1a" stroke-width="1.25"/>
<polygon points="437.80,83.71 440.67,86.58 437.80,89.46 434.92,86.58" fill="#6c46a0" stroke="#1a1a1a" stroke-width="1.25"/>
<line x1="283.40" y1="44.93" x2="283.40" y2="60.00" stroke="#333" stroke-width="0.9"/>
<line x1="280.70" y1="44.93" x2="286.10" y2="44.93" stroke="#333" stroke-width="0.9"/>
<line x1="280.70" y1="60.00" x2="286.10" y2="60.00" stroke="#333" stroke-width="0.9"/>
<line x1="291.12" y1="44.93" x2="291.12" y2="61.37" stroke="#333" stroke-width="0.9"/>
<line x1="288.42" y1="44.93" x2="293.82" y2="44.93" stroke="#333" stroke-width="0.9"/>
<line x1="288.42" y1="61.37" x2="293.82" y2="61.37" stroke="#333" stroke-width="0.9"/>
<line x1="298.84" y1="59.32" x2="298.84" y2="74.39" stroke="#333" stroke-width="0.9"/>
<line x1="296.14" y1="59.32" x2="301.54" y2="59.32" stroke="#333" stroke-width="0.9"/>
<line x1="296.14" y1="74.39" x2="301.54" y2="74.39" stroke="#333" stroke-width="0.9"/>
<line x1="306.56" y1="60.83" x2="306.56" y2="74.53" stroke="#333" stroke-width="0.9"/>
<line x1="303.86" y1="60.83" x2="309.26" y2="60.83" stroke="#333" stroke-width="0.9"/>
<line x1="303.86" y1="74.53" x2="309.26" y2="74.53" stroke="#333" stroke-width="0.9"/>
<line x1="314.28" y1="60.28" x2="314.28" y2="73.98" stroke="#333" stroke-width="0.9"/>
<line x1="311.58" y1="60.28" x2="316.98" y2="60.28" stroke="#333" stroke-width="0.9"/>
<line x1="311.58" y1="73.98" x2="316.98" y2="73.98" stroke="#333" stroke-width="0.9"/>
<line x1="322.00" y1="47.54" x2="322.00" y2="61.24" stroke="#333" stroke-width="0.9"/>
<line x1="319.30" y1="47.54" x2="324.70" y2="47.54" stroke="#333" stroke-width="0.9"/>
<line x1="319.30" y1="61.24" x2="324.70" y2="61.24" stroke="#333" stroke-width="0.9"/>
<line x1="329.72" y1="46.85" x2="329.72" y2="61.92" stroke="#333" stroke-width="0.9"/>
<line x1="327.02" y1="46.85" x2="332.42" y2="46.85" stroke="#333" stroke-width="0.9"/>
<line x1="327.02" y1="61.92" x2="332.42" y2="61.92" stroke="#333" stroke-width="0.9"/>
<line x1="337.44" y1="64.94" x2="337.44" y2="80.01" stroke="#333" stroke-width="0.9"/>
<line x1="334.74" y1="64.94" x2="340.14" y2="64.94" stroke="#333" stroke-width="0.9"/>
<line x1="334.74" y1="80.01" x2="340.14" y2="80.01" stroke="#333" stroke-width="0.9"/>
<line x1="345.16" y1="60.00" x2="345.16" y2="73.70" stroke="#333" stroke-width="0.9"/>
<line x1="342.46" y1="60.00" x2="347.86" y2="60.00" stroke="#333" stroke-width="0.9"/>
<line x1="342.46" y1="73.70" x2="347.86" y2="73.70" stroke="#333" stroke-width="0.9"/>
<line x1="352.88" y1="64.39" x2="352.88" y2="77.54" stroke="#333" stroke-width="0.9"/>
<line x1="350.18" y1="64.39" x2="355.58" y2="64.39" stroke="#333" stroke-width="0.9"/>
<line x1="350.18" y1="77.54" x2="355.58" y2="77.54" stroke="#333" stroke-width="0.9"/>
<line x1="360.60" y1="65.21" x2="360.60" y2="78.91" stroke="#333" stroke-width="0.9"/>
<line x1="357.90" y1="65.21" x2="363.30" y2="65.21" stroke="#333" stroke-width="0.9"/>
<line x1="357.90" y1="78.91" x2="363.30" y2="78.91" stroke="#333" stroke-width="0.9"/>
<line x1="368.32" y1="58.91" x2="368.32" y2="72.61" stroke="#333" stroke-width="0.9"/>
<line x1="365.62" y1="58.91" x2="371.02" y2="58.91" stroke="#333" stroke-width="0.9"/>
<line x1="365.62" y1="72.61" x2="371.02" y2="72.61" stroke="#333" stroke-width="0.9"/>
<line x1="376.04" y1="62.33" x2="376.04" y2="76.03" stroke="#333" stroke-width="0.9"/>
<line x1="373.34" y1="62.33" x2="378.74" y2="62.33" stroke="#333" stroke-width="0.9"/>
<line x1="373.34" y1="76.03" x2="378.74" y2="76.03" stroke="#333" stroke-width="0.9"/>
<line x1="383.76" y1="69.18" x2="383.76" y2="81.51" stroke="#333" stroke-width="0.9"/>
<line x1="381.06" y1="69.18" x2="386.46" y2="69.18" stroke="#333" stroke-width="0.9"/>
<line x1="381.06" y1="81.51" x2="386.46" y2="81.51" stroke="#333" stroke-width="0.9"/>
<line x1="391.48" y1="69.73" x2="391.48" y2="82.06" stroke="#333" stroke-width="0.9"/>
<line x1="388.78" y1="69.73" x2="394.18" y2="69.73" stroke="#333" stroke-width="0.9"/>
<line x1="388.78" y1="82.06" x2="394.18" y2="82.06" stroke="#333" stroke-width="0.9"/>
<line x1="399.20" y1="67.68" x2="399.20" y2="79.18" stroke="#333" stroke-width="0.9"/>
<line x1="396.50" y1="67.68" x2="401.90" y2="67.68" stroke="#333" stroke-width="0.9"/>
<line x1="396.50" y1="79.18" x2="401.90" y2="79.18" stroke="#333" stroke-width="0.9"/>
<line x1="406.92" y1="60.14" x2="406.92" y2="72.47" stroke="#333" stroke-width="0.9"/>
<line x1="404.22" y1="60.14" x2="409.62" y2="60.14" stroke="#333" stroke-width="0.9"/>
<line x1="404.22" y1="72.47" x2="409.62" y2="72.47" stroke="#333" stroke-width="0.9"/>
<line x1="414.64" y1="68.63" x2="414.64" y2="80.96" stroke="#333" stroke-width="0.9"/>
<line x1="411.94" y1="68.63" x2="417.34" y2="68.63" stroke="#333" stroke-width="0.9"/>
<line x1="411.94" y1="80.96" x2="417.34" y2="80.96" stroke="#333" stroke-width="0.9"/>
<line x1="422.36" y1="58.50" x2="422.36" y2="70.00" stroke="#333" stroke-width="0.9"/>
<line x1="419.66" y1="58.50" x2="425.06" y2="58.50" stroke="#333" stroke-width="0.9"/>
<line x1="419.66" y1="70.00" x2="425.06" y2="70.00" stroke="#333" stroke-width="0.9"/>
<line x1="430.08" y1="60.00" x2="430.08" y2="70.96" stroke="#333" stroke-width="0.9"/>
<line x1="427.38" y1="60.00" x2="432.78" y2="60.00" stroke="#333" stroke-width="0.9"/>
<line x1="427.38" y1="70.96" x2="432.78" y2="70.96" stroke="#333" stroke-width="0.9"/>
<line x1="437.80" y1="63.98" x2="437.80" y2="74.94" stroke="#333" stroke-width="0.9"/>
<line x1="435.10" y1="63.98" x2="440.50" y2="63.98" stroke="#333" stroke-width="0.9"/>
<line x1="435.10" y1="74.94" x2="440.50" y2="74.94" stroke="#333" stroke-width="0.9"/>
<polyline points="283.40,52.47 291.12,53.15 298.84,66.85 306.56,67.68 314.28,67.13 322.00,54.39 329.72,54.39 337.44,72.47 345.16,66.85 352.88,70.96 360.60,72.06 368.32,65.76 376.04,69.18 383.76,75.35 391.48,75.90 399.20,73.43 406.92,66.31 414.64,74.80 422.36,64.25 430.08,65.48 437.80,69.46" fill="none" stroke="#1a1a1a" stroke-width="1.15"/>
<polygon points="283.40,49.22 286.22,54.59 280.57,54.59" fill="#e8820e" stroke="#1a1a1a" stroke-width="1.35" stroke-linejoin="round"/>
<polygon points="291.12,49.91 293.94,55.27 288.30,55.27" fill="#e8820e" stroke="#1a1a1a" stroke-width="1.35" stroke-linejoin="round"/>
<polygon points="298.84,63.61 301.66,68.97 296.01,68.97" fill="#e8820e" stroke="#1a1a1a" stroke-width="1.35" stroke-linejoin="round"/>
<polygon points="306.56,64.43 309.38,69.79 303.74,69.79" fill="#e8820e" stroke="#1a1a1a" stroke-width="1.35" stroke-linejoin="round"/>
<polygon points="314.28,63.88 317.10,69.25 311.45,69.25" fill="#e8820e" stroke="#1a1a1a" stroke-width="1.35" stroke-linejoin="round"/>
<polygon points="322.00,51.14 324.82,56.51 319.18,56.51" fill="#e8820e" stroke="#1a1a1a" stroke-width="1.35" stroke-linejoin="round"/>
<polygon points="329.72,51.14 332.54,56.51 326.89,56.51" fill="#e8820e" stroke="#1a1a1a" stroke-width="1.35" stroke-linejoin="round"/>
<polygon points="337.44,69.22 340.26,74.59 334.62,74.59" fill="#e8820e" stroke="#1a1a1a" stroke-width="1.35" stroke-linejoin="round"/>
<polygon points="345.16,63.61 347.98,68.97 342.33,68.97" fill="#e8820e" stroke="#1a1a1a" stroke-width="1.35" stroke-linejoin="round"/>
<polygon points="352.88,67.72 355.70,73.08 350.06,73.08" fill="#e8820e" stroke="#1a1a1a" stroke-width="1.35" stroke-linejoin="round"/>
<polygon points="360.60,68.81 363.42,74.18 357.77,74.18" fill="#e8820e" stroke="#1a1a1a" stroke-width="1.35" stroke-linejoin="round"/>
<polygon points="368.32,62.51 371.14,67.88 365.50,67.88" fill="#e8820e" stroke="#1a1a1a" stroke-width="1.35" stroke-linejoin="round"/>
<polygon points="376.04,65.93 378.86,71.30 373.21,71.30" fill="#e8820e" stroke="#1a1a1a" stroke-width="1.35" stroke-linejoin="round"/>
<polygon points="383.76,72.10 386.58,77.47 380.94,77.47" fill="#e8820e" stroke="#1a1a1a" stroke-width="1.35" stroke-linejoin="round"/>
<polygon points="391.48,72.65 394.30,78.01 388.65,78.01" fill="#e8820e" stroke="#1a1a1a" stroke-width="1.35" stroke-linejoin="round"/>
<polygon points="399.20,70.18 402.02,75.55 396.38,75.55" fill="#e8820e" stroke="#1a1a1a" stroke-width="1.35" stroke-linejoin="round"/>
<polygon points="406.92,63.06 409.74,68.42 404.09,68.42" fill="#e8820e" stroke="#1a1a1a" stroke-width="1.35" stroke-linejoin="round"/>
<polygon points="414.64,71.55 417.46,76.92 411.81,76.92" fill="#e8820e" stroke="#1a1a1a" stroke-width="1.35" stroke-linejoin="round"/>
<polygon points="422.36,61.00 425.19,66.37 419.54,66.37" fill="#e8820e" stroke="#1a1a1a" stroke-width="1.35" stroke-linejoin="round"/>
<polygon points="430.08,62.24 432.90,67.60 427.25,67.60" fill="#e8820e" stroke="#1a1a1a" stroke-width="1.35" stroke-linejoin="round"/>
<polygon points="437.80,66.21 440.62,71.58 434.97,71.58" fill="#e8820e" stroke="#1a1a1a" stroke-width="1.35" stroke-linejoin="round"/>
<line x1="283.40" y1="61.10" x2="283.40" y2="70.69" stroke="#333" stroke-width="0.9"/>
<line x1="280.70" y1="61.10" x2="286.10" y2="61.10" stroke="#333" stroke-width="0.9"/>
<line x1="280.70" y1="70.69" x2="286.10" y2="70.69" stroke="#333" stroke-width="0.9"/>
<line x1="291.12" y1="105.49" x2="291.12" y2="116.45" stroke="#333" stroke-width="0.9"/>
<line x1="288.42" y1="105.49" x2="293.82" y2="105.49" stroke="#333" stroke-width="0.9"/>
<line x1="288.42" y1="116.45" x2="293.82" y2="116.45" stroke="#333" stroke-width="0.9"/>
<line x1="298.84" y1="109.87" x2="298.84" y2="120.83" stroke="#333" stroke-width="0.9"/>
<line x1="296.14" y1="109.87" x2="301.54" y2="109.87" stroke="#333" stroke-width="0.9"/>
<line x1="296.14" y1="120.83" x2="301.54" y2="120.83" stroke="#333" stroke-width="0.9"/>
<line x1="306.56" y1="96.58" x2="306.56" y2="107.54" stroke="#333" stroke-width="0.9"/>
<line x1="303.86" y1="96.58" x2="309.26" y2="96.58" stroke="#333" stroke-width="0.9"/>
<line x1="303.86" y1="107.54" x2="309.26" y2="107.54" stroke="#333" stroke-width="0.9"/>
<line x1="314.28" y1="95.21" x2="314.28" y2="106.72" stroke="#333" stroke-width="0.9"/>
<line x1="311.58" y1="95.21" x2="316.98" y2="95.21" stroke="#333" stroke-width="0.9"/>
<line x1="311.58" y1="106.72" x2="316.98" y2="106.72" stroke="#333" stroke-width="0.9"/>
<line x1="322.00" y1="86.17" x2="322.00" y2="98.50" stroke="#333" stroke-width="0.9"/>
<line x1="319.30" y1="86.17" x2="324.70" y2="86.17" stroke="#333" stroke-width="0.9"/>
<line x1="319.30" y1="98.50" x2="324.70" y2="98.50" stroke="#333" stroke-width="0.9"/>
<line x1="329.72" y1="76.58" x2="329.72" y2="90.28" stroke="#333" stroke-width="0.9"/>
<line x1="327.02" y1="76.58" x2="332.42" y2="76.58" stroke="#333" stroke-width="0.9"/>
<line x1="327.02" y1="90.28" x2="332.42" y2="90.28" stroke="#333" stroke-width="0.9"/>
<line x1="337.44" y1="83.98" x2="337.44" y2="96.31" stroke="#333" stroke-width="0.9"/>
<line x1="334.74" y1="83.98" x2="340.14" y2="83.98" stroke="#333" stroke-width="0.9"/>
<line x1="334.74" y1="96.31" x2="340.14" y2="96.31" stroke="#333" stroke-width="0.9"/>
<line x1="345.16" y1="80.14" x2="345.16" y2="92.47" stroke="#333" stroke-width="0.9"/>
<line x1="342.46" y1="80.14" x2="347.86" y2="80.14" stroke="#333" stroke-width="0.9"/>
<line x1="342.46" y1="92.47" x2="347.86" y2="92.47" stroke="#333" stroke-width="0.9"/>
<line x1="352.88" y1="81.24" x2="352.88" y2="92.20" stroke="#333" stroke-width="0.9"/>
<line x1="350.18" y1="81.24" x2="355.58" y2="81.24" stroke="#333" stroke-width="0.9"/>
<line x1="350.18" y1="92.20" x2="355.58" y2="92.20" stroke="#333" stroke-width="0.9"/>
<line x1="360.60" y1="70.83" x2="360.60" y2="83.16" stroke="#333" stroke-width="0.9"/>
<line x1="357.90" y1="70.83" x2="363.30" y2="70.83" stroke="#333" stroke-width="0.9"/>
<line x1="357.90" y1="83.16" x2="363.30" y2="83.16" stroke="#333" stroke-width="0.9"/>
<line x1="368.32" y1="69.59" x2="368.32" y2="81.92" stroke="#333" stroke-width="0.9"/>
<line x1="365.62" y1="69.59" x2="371.02" y2="69.59" stroke="#333" stroke-width="0.9"/>
<line x1="365.62" y1="81.92" x2="371.02" y2="81.92" stroke="#333" stroke-width="0.9"/>
<line x1="376.04" y1="67.40" x2="376.04" y2="79.73" stroke="#333" stroke-width="0.9"/>
<line x1="373.34" y1="67.40" x2="378.74" y2="67.40" stroke="#333" stroke-width="0.9"/>
<line x1="373.34" y1="79.73" x2="378.74" y2="79.73" stroke="#333" stroke-width="0.9"/>
<line x1="383.76" y1="86.31" x2="383.76" y2="96.72" stroke="#333" stroke-width="0.9"/>
<line x1="381.06" y1="86.31" x2="386.46" y2="86.31" stroke="#333" stroke-width="0.9"/>
<line x1="381.06" y1="96.72" x2="386.46" y2="96.72" stroke="#333" stroke-width="0.9"/>
<line x1="391.48" y1="84.53" x2="391.48" y2="95.49" stroke="#333" stroke-width="0.9"/>
<line x1="388.78" y1="84.53" x2="394.18" y2="84.53" stroke="#333" stroke-width="0.9"/>
<line x1="388.78" y1="95.49" x2="394.18" y2="95.49" stroke="#333" stroke-width="0.9"/>
<line x1="399.20" y1="82.88" x2="399.20" y2="93.29" stroke="#333" stroke-width="0.9"/>
<line x1="396.50" y1="82.88" x2="401.90" y2="82.88" stroke="#333" stroke-width="0.9"/>
<line x1="396.50" y1="93.29" x2="401.90" y2="93.29" stroke="#333" stroke-width="0.9"/>
<line x1="406.92" y1="76.03" x2="406.92" y2="86.99" stroke="#333" stroke-width="0.9"/>
<line x1="404.22" y1="76.03" x2="409.62" y2="76.03" stroke="#333" stroke-width="0.9"/>
<line x1="404.22" y1="86.99" x2="409.62" y2="86.99" stroke="#333" stroke-width="0.9"/>
<line x1="414.64" y1="78.64" x2="414.64" y2="89.05" stroke="#333" stroke-width="0.9"/>
<line x1="411.94" y1="78.64" x2="417.34" y2="78.64" stroke="#333" stroke-width="0.9"/>
<line x1="411.94" y1="89.05" x2="417.34" y2="89.05" stroke="#333" stroke-width="0.9"/>
<line x1="422.36" y1="66.44" x2="422.36" y2="77.40" stroke="#333" stroke-width="0.9"/>
<line x1="419.66" y1="66.44" x2="425.06" y2="66.44" stroke="#333" stroke-width="0.9"/>
<line x1="419.66" y1="77.40" x2="425.06" y2="77.40" stroke="#333" stroke-width="0.9"/>
<line x1="430.08" y1="70.00" x2="430.08" y2="79.59" stroke="#333" stroke-width="0.9"/>
<line x1="427.38" y1="70.00" x2="432.78" y2="70.00" stroke="#333" stroke-width="0.9"/>
<line x1="427.38" y1="79.59" x2="432.78" y2="79.59" stroke="#333" stroke-width="0.9"/>
<line x1="437.80" y1="69.59" x2="437.80" y2="79.18" stroke="#333" stroke-width="0.9"/>
<line x1="435.10" y1="69.59" x2="440.50" y2="69.59" stroke="#333" stroke-width="0.9"/>
<line x1="435.10" y1="79.18" x2="440.50" y2="79.18" stroke="#333" stroke-width="0.9"/>
<polyline points="283.40,65.89 291.12,110.97 298.84,115.35 306.56,102.06 314.28,100.97 322.00,92.34 329.72,83.43 337.44,90.14 345.16,86.31 352.88,86.72 360.60,76.99 368.32,75.76 376.04,73.57 383.76,91.51 391.48,90.01 399.20,88.09 406.92,81.51 414.64,83.84 422.36,71.92 430.08,74.80 437.80,74.39" fill="none" stroke="#1a1a1a" stroke-width="1.15"/>
<rect x="280.62" y="63.12" width="5.55" height="5.55" fill="#4a7ec6" stroke="#1a1a1a" stroke-width="1.25"/>
<rect x="288.35" y="108.19" width="5.55" height="5.55" fill="#4a7ec6" stroke="#1a1a1a" stroke-width="1.25"/>
<rect x="296.06" y="112.58" width="5.55" height="5.55" fill="#4a7ec6" stroke="#1a1a1a" stroke-width="1.25"/>
<rect x="303.79" y="99.29" width="5.55" height="5.55" fill="#4a7ec6" stroke="#1a1a1a" stroke-width="1.25"/>
<rect x="311.50" y="98.19" width="5.55" height="5.55" fill="#4a7ec6" stroke="#1a1a1a" stroke-width="1.25"/>
<rect x="319.23" y="89.56" width="5.55" height="5.55" fill="#4a7ec6" stroke="#1a1a1a" stroke-width="1.25"/>
<rect x="326.94" y="80.66" width="5.55" height="5.55" fill="#4a7ec6" stroke="#1a1a1a" stroke-width="1.25"/>
<rect x="334.67" y="87.37" width="5.55" height="5.55" fill="#4a7ec6" stroke="#1a1a1a" stroke-width="1.25"/>
<rect x="342.38" y="83.53" width="5.55" height="5.55" fill="#4a7ec6" stroke="#1a1a1a" stroke-width="1.25"/>
<rect x="350.11" y="83.94" width="5.55" height="5.55" fill="#4a7ec6" stroke="#1a1a1a" stroke-width="1.25"/>
<rect x="357.82" y="74.22" width="5.55" height="5.55" fill="#4a7ec6" stroke="#1a1a1a" stroke-width="1.25"/>
<rect x="365.55" y="72.98" width="5.55" height="5.55" fill="#4a7ec6" stroke="#1a1a1a" stroke-width="1.25"/>
<rect x="373.26" y="70.79" width="5.55" height="5.55" fill="#4a7ec6" stroke="#1a1a1a" stroke-width="1.25"/>
<rect x="380.99" y="88.74" width="5.55" height="5.55" fill="#4a7ec6" stroke="#1a1a1a" stroke-width="1.25"/>
<rect x="388.70" y="87.23" width="5.55" height="5.55" fill="#4a7ec6" stroke="#1a1a1a" stroke-width="1.25"/>
<rect x="396.43" y="85.31" width="5.55" height="5.55" fill="#4a7ec6" stroke="#1a1a1a" stroke-width="1.25"/>
<rect x="404.14" y="78.74" width="5.55" height="5.55" fill="#4a7ec6" stroke="#1a1a1a" stroke-width="1.25"/>
<rect x="411.87" y="81.07" width="5.55" height="5.55" fill="#4a7ec6" stroke="#1a1a1a" stroke-width="1.25"/>
<rect x="419.59" y="69.15" width="5.55" height="5.55" fill="#4a7ec6" stroke="#1a1a1a" stroke-width="1.25"/>
<rect x="427.31" y="72.02" width="5.55" height="5.55" fill="#4a7ec6" stroke="#1a1a1a" stroke-width="1.25"/>
<rect x="435.02" y="71.61" width="5.55" height="5.55" fill="#4a7ec6" stroke="#1a1a1a" stroke-width="1.25"/>
<line x1="283.40" y1="56.99" x2="283.40" y2="67.95" stroke="#444" stroke-width="0.9"/>
<line x1="280.70" y1="56.99" x2="286.10" y2="56.99" stroke="#444" stroke-width="0.9"/>
<line x1="280.70" y1="67.95" x2="286.10" y2="67.95" stroke="#444" stroke-width="0.9"/>
<line x1="291.12" y1="57.26" x2="291.12" y2="72.33" stroke="#444" stroke-width="0.9"/>
<line x1="288.42" y1="57.26" x2="293.82" y2="57.26" stroke="#444" stroke-width="0.9"/>
<line x1="288.42" y1="72.33" x2="293.82" y2="72.33" stroke="#444" stroke-width="0.9"/>
<line x1="298.84" y1="81.10" x2="298.84" y2="94.80" stroke="#444" stroke-width="0.9"/>
<line x1="296.14" y1="81.10" x2="301.54" y2="81.10" stroke="#444" stroke-width="0.9"/>
<line x1="296.14" y1="94.80" x2="301.54" y2="94.80" stroke="#444" stroke-width="0.9"/>
<line x1="306.56" y1="79.59" x2="306.56" y2="92.75" stroke="#444" stroke-width="0.9"/>
<line x1="303.86" y1="79.59" x2="309.26" y2="79.59" stroke="#444" stroke-width="0.9"/>
<line x1="303.86" y1="92.75" x2="309.26" y2="92.75" stroke="#444" stroke-width="0.9"/>
<line x1="314.28" y1="76.58" x2="314.28" y2="90.28" stroke="#444" stroke-width="0.9"/>
<line x1="311.58" y1="76.58" x2="316.98" y2="76.58" stroke="#444" stroke-width="0.9"/>
<line x1="311.58" y1="90.28" x2="316.98" y2="90.28" stroke="#444" stroke-width="0.9"/>
<line x1="322.00" y1="73.57" x2="322.00" y2="87.81" stroke="#444" stroke-width="0.9"/>
<line x1="319.30" y1="73.57" x2="324.70" y2="73.57" stroke="#444" stroke-width="0.9"/>
<line x1="319.30" y1="87.81" x2="324.70" y2="87.81" stroke="#444" stroke-width="0.9"/>
<line x1="329.72" y1="57.81" x2="329.72" y2="74.25" stroke="#444" stroke-width="0.9"/>
<line x1="327.02" y1="57.81" x2="332.42" y2="57.81" stroke="#444" stroke-width="0.9"/>
<line x1="327.02" y1="74.25" x2="332.42" y2="74.25" stroke="#444" stroke-width="0.9"/>
<line x1="337.44" y1="71.92" x2="337.44" y2="86.99" stroke="#444" stroke-width="0.9"/>
<line x1="334.74" y1="71.92" x2="340.14" y2="71.92" stroke="#444" stroke-width="0.9"/>
<line x1="334.74" y1="86.99" x2="340.14" y2="86.99" stroke="#444" stroke-width="0.9"/>
<line x1="345.16" y1="59.32" x2="345.16" y2="75.21" stroke="#444" stroke-width="0.9"/>
<line x1="342.46" y1="59.32" x2="347.86" y2="59.32" stroke="#444" stroke-width="0.9"/>
<line x1="342.46" y1="75.21" x2="347.86" y2="75.21" stroke="#444" stroke-width="0.9"/>
<line x1="352.88" y1="66.31" x2="352.88" y2="80.01" stroke="#444" stroke-width="0.9"/>
<line x1="350.18" y1="66.31" x2="355.58" y2="66.31" stroke="#444" stroke-width="0.9"/>
<line x1="350.18" y1="80.01" x2="355.58" y2="80.01" stroke="#444" stroke-width="0.9"/>
<line x1="360.60" y1="59.73" x2="360.60" y2="74.80" stroke="#444" stroke-width="0.9"/>
<line x1="357.90" y1="59.73" x2="363.30" y2="59.73" stroke="#444" stroke-width="0.9"/>
<line x1="357.90" y1="74.80" x2="363.30" y2="74.80" stroke="#444" stroke-width="0.9"/>
<line x1="368.32" y1="49.45" x2="368.32" y2="65.89" stroke="#444" stroke-width="0.9"/>
<line x1="365.62" y1="49.45" x2="371.02" y2="49.45" stroke="#444" stroke-width="0.9"/>
<line x1="365.62" y1="65.89" x2="371.02" y2="65.89" stroke="#444" stroke-width="0.9"/>
<line x1="376.04" y1="55.76" x2="376.04" y2="71.65" stroke="#444" stroke-width="0.9"/>
<line x1="373.34" y1="55.76" x2="378.74" y2="55.76" stroke="#444" stroke-width="0.9"/>
<line x1="373.34" y1="71.65" x2="378.74" y2="71.65" stroke="#444" stroke-width="0.9"/>
<line x1="383.76" y1="71.10" x2="383.76" y2="83.43" stroke="#444" stroke-width="0.9"/>
<line x1="381.06" y1="71.10" x2="386.46" y2="71.10" stroke="#444" stroke-width="0.9"/>
<line x1="381.06" y1="83.43" x2="386.46" y2="83.43" stroke="#444" stroke-width="0.9"/>
<line x1="391.48" y1="73.70" x2="391.48" y2="86.03" stroke="#444" stroke-width="0.9"/>
<line x1="388.78" y1="73.70" x2="394.18" y2="73.70" stroke="#444" stroke-width="0.9"/>
<line x1="388.78" y1="86.03" x2="394.18" y2="86.03" stroke="#444" stroke-width="0.9"/>
<line x1="399.20" y1="75.48" x2="399.20" y2="86.44" stroke="#444" stroke-width="0.9"/>
<line x1="396.50" y1="75.48" x2="401.90" y2="75.48" stroke="#444" stroke-width="0.9"/>
<line x1="396.50" y1="86.44" x2="401.90" y2="86.44" stroke="#444" stroke-width="0.9"/>
<line x1="406.92" y1="67.68" x2="406.92" y2="80.01" stroke="#444" stroke-width="0.9"/>
<line x1="404.22" y1="67.68" x2="409.62" y2="67.68" stroke="#444" stroke-width="0.9"/>
<line x1="404.22" y1="80.01" x2="409.62" y2="80.01" stroke="#444" stroke-width="0.9"/>
<line x1="414.64" y1="69.87" x2="414.64" y2="81.38" stroke="#444" stroke-width="0.9"/>
<line x1="411.94" y1="69.87" x2="417.34" y2="69.87" stroke="#444" stroke-width="0.9"/>
<line x1="411.94" y1="81.38" x2="417.34" y2="81.38" stroke="#444" stroke-width="0.9"/>
<line x1="422.36" y1="55.07" x2="422.36" y2="66.03" stroke="#444" stroke-width="0.9"/>
<line x1="419.66" y1="55.07" x2="425.06" y2="55.07" stroke="#444" stroke-width="0.9"/>
<line x1="419.66" y1="66.03" x2="425.06" y2="66.03" stroke="#444" stroke-width="0.9"/>
<line x1="430.08" y1="54.11" x2="430.08" y2="63.70" stroke="#444" stroke-width="0.9"/>
<line x1="427.38" y1="54.11" x2="432.78" y2="54.11" stroke="#444" stroke-width="0.9"/>
<line x1="427.38" y1="63.70" x2="432.78" y2="63.70" stroke="#444" stroke-width="0.9"/>
<line x1="437.80" y1="54.93" x2="437.80" y2="65.35" stroke="#444" stroke-width="0.9"/>
<line x1="435.10" y1="54.93" x2="440.50" y2="54.93" stroke="#444" stroke-width="0.9"/>
<line x1="435.10" y1="65.35" x2="440.50" y2="65.35" stroke="#444" stroke-width="0.9"/>
<polyline points="283.40,62.47 291.12,64.80 298.84,87.95 306.56,86.17 314.28,83.43 322.00,80.69 329.72,66.03 337.44,79.46 345.16,67.26 352.88,73.16 360.60,67.26 368.32,57.67 376.04,63.70 383.76,77.27 391.48,79.87 399.20,80.96 406.92,73.84 414.64,75.62 422.36,60.55 430.08,58.91 437.80,60.14" fill="none" stroke="#1a1a1a" stroke-width="1.15"/>
<circle cx="283.40" cy="62.47" r="2.88" fill="#fff" stroke="#1a1a1a" stroke-width="1.25"/>
<circle cx="291.12" cy="64.80" r="2.88" fill="#fff" stroke="#1a1a1a" stroke-width="1.25"/>
<circle cx="298.84" cy="87.95" r="2.88" fill="#fff" stroke="#1a1a1a" stroke-width="1.25"/>
<circle cx="306.56" cy="86.17" r="2.88" fill="#fff" stroke="#1a1a1a" stroke-width="1.25"/>
<circle cx="314.28" cy="83.43" r="2.88" fill="#fff" stroke="#1a1a1a" stroke-width="1.25"/>
<circle cx="322.00" cy="80.69" r="2.88" fill="#fff" stroke="#1a1a1a" stroke-width="1.25"/>
<circle cx="329.72" cy="66.03" r="2.88" fill="#fff" stroke="#1a1a1a" stroke-width="1.25"/>
<circle cx="337.44" cy="79.46" r="2.88" fill="#fff" stroke="#1a1a1a" stroke-width="1.25"/>
<circle cx="345.16" cy="67.26" r="2.88" fill="#fff" stroke="#1a1a1a" stroke-width="1.25"/>
<circle cx="352.88" cy="73.16" r="2.88" fill="#fff" stroke="#1a1a1a" stroke-width="1.25"/>
<circle cx="360.60" cy="67.26" r="2.88" fill="#fff" stroke="#1a1a1a" stroke-width="1.25"/>
<circle cx="368.32" cy="57.67" r="2.88" fill="#fff" stroke="#1a1a1a" stroke-width="1.25"/>
<circle cx="376.04" cy="63.70" r="2.88" fill="#fff" stroke="#1a1a1a" stroke-width="1.25"/>
<circle cx="383.76" cy="77.27" r="2.88" fill="#fff" stroke="#1a1a1a" stroke-width="1.25"/>
<circle cx="391.48" cy="79.87" r="2.88" fill="#fff" stroke="#1a1a1a" stroke-width="1.25"/>
<circle cx="399.20" cy="80.96" r="2.88" fill="#fff" stroke="#1a1a1a" stroke-width="1.25"/>
<circle cx="406.92" cy="73.84" r="2.88" fill="#fff" stroke="#1a1a1a" stroke-width="1.25"/>
<circle cx="414.64" cy="75.62" r="2.88" fill="#fff" stroke="#1a1a1a" stroke-width="1.25"/>
<circle cx="422.36" cy="60.55" r="2.88" fill="#fff" stroke="#1a1a1a" stroke-width="1.25"/>
<circle cx="430.08" cy="58.91" r="2.88" fill="#fff" stroke="#1a1a1a" stroke-width="1.25"/>
<circle cx="437.80" cy="60.14" r="2.88" fill="#fff" stroke="#1a1a1a" stroke-width="1.25"/>
<path d="M289.12,122.65V125.35M287.95,123.33L290.29,124.67M287.95,124.67L290.29,123.33" stroke="#4a7ec6" stroke-width="1.0" fill="none"/>
<path d="M293.12,122.65V125.35M291.95,123.33L294.29,124.67M291.95,124.67L294.29,123.33" stroke="#8c3c9e" stroke-width="1.0" fill="none"/>
<polyline points="287.62,129.80 289.12,126.70 290.62,129.80" fill="none" stroke="#4a7ec6" stroke-width="0.9"/>
<polyline points="291.62,129.80 293.12,126.70 294.62,129.80" fill="none" stroke="#8c3c9e" stroke-width="0.9"/>
<path d="M298.84,133.55V136.25M297.67,134.22L300.01,135.58M297.67,135.58L300.01,134.22" stroke="#8c3c9e" stroke-width="1.0" fill="none"/>
<polyline points="295.34,140.30 296.84,137.20 298.34,140.30" fill="none" stroke="#4a7ec6" stroke-width="0.9"/>
<polyline points="299.34,140.30 300.84,137.20 302.34,140.30" fill="none" stroke="#8c3c9e" stroke-width="0.9"/>
<path d="M306.56,124.95V127.65M305.39,125.62L307.73,126.97M305.39,126.97L307.73,125.62" stroke="#8c3c9e" stroke-width="1.0" fill="none"/>
<polyline points="303.06,131.00 304.56,127.90 306.06,131.00" fill="none" stroke="#4a7ec6" stroke-width="0.9"/>
<polyline points="307.06,131.00 308.56,127.90 310.06,131.00" fill="none" stroke="#8c3c9e" stroke-width="0.9"/>
<polyline points="312.78,126.20 314.28,123.10 315.78,126.20" fill="none" stroke="#8c3c9e" stroke-width="0.9"/>
<path d="M322.00,123.35V126.05M320.83,124.03L323.17,125.38M320.83,125.38L323.17,124.03" stroke="#8c3c9e" stroke-width="1.0" fill="none"/>
<polyline points="318.50,129.40 320.00,126.30 321.50,129.40" fill="none" stroke="#4a7ec6" stroke-width="0.9"/>
<polyline points="322.50,129.40 324.00,126.30 325.50,129.40" fill="none" stroke="#8c3c9e" stroke-width="0.9"/>
<path d="M329.72,114.65V117.35M328.55,115.33L330.89,116.67M328.55,116.67L330.89,115.33" stroke="#8c3c9e" stroke-width="1.0" fill="none"/>
<polyline points="328.22,120.80 329.72,117.70 331.22,120.80" fill="none" stroke="#8c3c9e" stroke-width="0.9"/>
<path d="M337.44,117.85V120.55M336.27,118.53L338.61,119.88M336.27,119.88L338.61,118.53" stroke="#8c3c9e" stroke-width="1.0" fill="none"/>
<polyline points="335.94,125.70 337.44,122.60 338.94,125.70" fill="none" stroke="#8c3c9e" stroke-width="0.9"/>
<polyline points="405.42,97.20 406.92,94.10 408.42,97.20" fill="none" stroke="#8c3c9e" stroke-width="0.9"/>
<path d="M414.64,98.05V100.75M413.47,98.73L415.81,100.08M413.47,100.08L415.81,98.73" stroke="#8c3c9e" stroke-width="1.0" fill="none"/>
<path d="M422.36,88.25V90.95M421.19,88.92L423.53,90.27M421.19,90.27L423.53,88.92" stroke="#8c3c9e" stroke-width="1.0" fill="none"/>
<path d="M430.08,94.55V97.25M428.91,95.23L431.25,96.58M428.91,96.58L431.25,95.23" stroke="#8c3c9e" stroke-width="1.0" fill="none"/>
<path d="M437.80,96.65V99.35M436.63,97.33L438.97,98.67M436.63,98.67L438.97,97.33" stroke="#8c3c9e" stroke-width="1.0" fill="none"/>
<path d="M444.50,83.90V88.30M442.30,86.10H446.70" stroke="#9c3aa6" stroke-width="0.95" fill="none"/>
<line x1="477.00" y1="66.50" x2="496.00" y2="66.50" stroke="#1a1a1a" stroke-width="1.4"/>
<circle cx="485.80" cy="66.50" r="4.00" fill="#fff" stroke="#1a1a1a" stroke-width="1.6"/>
<text x="502.50" y="72.00" font-size="13.5" text-anchor="start" fill="#111" font-weight="normal">Vehicle</text>
<line x1="477.00" y1="87.90" x2="496.00" y2="87.90" stroke="#1a1a1a" stroke-width="1.4"/>
<rect x="483.10" y="84.30" width="7.20" height="7.20" fill="#4a7ec6" stroke="#1a1a1a" stroke-width="1.6"/>
<text x="502.50" y="93.40" font-size="13.5" text-anchor="start" fill="#111" font-weight="normal">Sema</text>
<line x1="477.00" y1="108.30" x2="496.00" y2="108.30" stroke="#1a1a1a" stroke-width="1.4"/>
<polygon points="486.70,103.72 491.20,112.27 482.20,112.27" fill="#e8820e" stroke="#1a1a1a" stroke-width="1.6" stroke-linejoin="round"/>
<text x="502.50" y="113.10" font-size="13.5" text-anchor="start" fill="#111" font-weight="normal"><tspan font-family="Liberation Serif" font-size="15">α</tspan><tspan dx="0.9">-MSTN + </tspan><tspan font-family="Liberation Serif" font-size="15">α</tspan><tspan dx="0.9">-ActA</tspan></text>
<line x1="477.00" y1="130.50" x2="496.00" y2="130.50" stroke="#8c2a94" stroke-width="1.4"/>
<polygon points="486.70,126.40 490.80,130.50 486.70,134.60 482.60,130.50" fill="#7a2d8e" stroke="#1a1a1a" stroke-width="1.6"/>
<text x="502.50" y="135.40" font-size="13.5" text-anchor="start" fill="#111" font-weight="normal">Sema + <tspan font-family="Liberation Serif" font-size="15">α</tspan><tspan dx="0.9">-MSTN + </tspan><tspan font-family="Liberation Serif" font-size="15">α</tspan><tspan dx="0.9">-ActA</tspan></text>
<rect x="51.20" y="219.50" width="156.40" height="8.00" fill="#fff" stroke="#444" stroke-width="0.95"/>
<text x="128.00" y="225.40" font-size="6.2" text-anchor="middle" fill="#1a1a1a" font-weight="normal" textLength="51.5" lengthAdjust="spacingAndGlyphs">Semaglutide Dosing</text>
<rect x="64.64" y="227.50" width="79.80" height="8.90" fill="#fff" stroke="#555" stroke-width="0.95"/>
<text x="104.54" y="233.85" font-size="6.2" text-anchor="middle" fill="#1a1a1a" font-weight="normal" textLength="43" lengthAdjust="spacingAndGlyphs">Antibody Dosing</text>
<line x1="51.20" y1="219.50" x2="51.20" y2="359.40" stroke="#1a1a1a" stroke-width="1.3"/>
<line x1="50.60" y1="358.80" x2="208.20" y2="358.80" stroke="#1a1a1a" stroke-width="1.3"/>
<line x1="46.50" y1="219.40" x2="51.20" y2="219.40" stroke="#1a1a1a" stroke-width="1.2"/>
<text x="45.00" y="223.00" font-size="10.2" text-anchor="end" fill="#1a1a1a" font-weight="normal">110</text>
<line x1="46.50" y1="247.25" x2="51.20" y2="247.25" stroke="#1a1a1a" stroke-width="1.2"/>
<text x="45.00" y="250.85" font-size="10.2" text-anchor="end" fill="#1a1a1a" font-weight="normal">105</text>
<line x1="46.50" y1="275.10" x2="51.20" y2="275.10" stroke="#1a1a1a" stroke-width="1.2"/>
<text x="45.00" y="278.70" font-size="10.2" text-anchor="end" fill="#1a1a1a" font-weight="normal">100</text>
<line x1="46.50" y1="302.95" x2="51.20" y2="302.95" stroke="#1a1a1a" stroke-width="1.2"/>
<text x="45.00" y="306.55" font-size="10.2" text-anchor="end" fill="#1a1a1a" font-weight="normal">95</text>
<line x1="46.50" y1="330.80" x2="51.20" y2="330.80" stroke="#1a1a1a" stroke-width="1.2"/>
<text x="45.00" y="334.40" font-size="10.2" text-anchor="end" fill="#1a1a1a" font-weight="normal">90</text>
<line x1="46.50" y1="358.65" x2="51.20" y2="358.65" stroke="#1a1a1a" stroke-width="1.2"/>
<text x="45.00" y="362.25" font-size="10.2" text-anchor="end" fill="#1a1a1a" font-weight="normal">85</text>
<line x1="51.20" y1="358.80" x2="51.20" y2="363.50" stroke="#1a1a1a" stroke-width="1.2"/>
<text x="51.20" y="375.60" font-size="10.2" text-anchor="middle" fill="#1a1a1a" font-weight="normal">0</text>
<line x1="90.30" y1="358.80" x2="90.30" y2="363.50" stroke="#1a1a1a" stroke-width="1.2"/>
<text x="90.30" y="375.60" font-size="10.2" text-anchor="middle" fill="#1a1a1a" font-weight="normal">5</text>
<line x1="129.40" y1="358.80" x2="129.40" y2="363.50" stroke="#1a1a1a" stroke-width="1.2"/>
<text x="129.40" y="375.60" font-size="10.2" text-anchor="middle" fill="#1a1a1a" font-weight="normal">10</text>
<line x1="168.50" y1="358.80" x2="168.50" y2="363.50" stroke="#1a1a1a" stroke-width="1.2"/>
<text x="168.50" y="375.60" font-size="10.2" text-anchor="middle" fill="#1a1a1a" font-weight="normal">15</text>
<line x1="207.60" y1="358.80" x2="207.60" y2="363.50" stroke="#1a1a1a" stroke-width="1.2"/>
<text x="207.60" y="375.60" font-size="10.2" text-anchor="middle" fill="#1a1a1a" font-weight="normal">20</text>
<text x="129.40" y="387.00" font-size="10.5" text-anchor="middle" fill="#1a1a1a" font-weight="normal">Week</text>
<text x="9.00" y="286.30" font-size="10.5" text-anchor="middle" fill="#1a1a1a" font-weight="normal" transform="rotate(-90 9.0 286.3)">Total Mass</text>
<text x="21.30" y="287.40" font-size="10.5" text-anchor="middle" fill="#1a1a1a" font-weight="normal" transform="rotate(-90 21.3 287.4)">(% change from baseine)</text>
<text x="8.50" y="219.50" font-size="18.5" text-anchor="start" fill="#000" font-weight="bold">c</text>
<line x1="66.84" y1="292.92" x2="66.84" y2="301.84" stroke="#a58ccc" stroke-width="0.9"/>
<line x1="64.14" y1="292.92" x2="69.54" y2="292.92" stroke="#a58ccc" stroke-width="0.9"/>
<line x1="64.14" y1="301.84" x2="69.54" y2="301.84" stroke="#a58ccc" stroke-width="0.9"/>
<line x1="98.12" y1="309.08" x2="98.12" y2="335.81" stroke="#a58ccc" stroke-width="0.9"/>
<line x1="95.42" y1="309.08" x2="100.82" y2="309.08" stroke="#a58ccc" stroke-width="0.9"/>
<line x1="95.42" y1="335.81" x2="100.82" y2="335.81" stroke="#a58ccc" stroke-width="0.9"/>
<line x1="145.04" y1="294.87" x2="145.04" y2="322.72" stroke="#a58ccc" stroke-width="0.9"/>
<line x1="142.34" y1="294.87" x2="147.74" y2="294.87" stroke="#a58ccc" stroke-width="0.9"/>
<line x1="142.34" y1="322.72" x2="147.74" y2="322.72" stroke="#a58ccc" stroke-width="0.9"/>
<line x1="176.32" y1="310.19" x2="176.32" y2="332.47" stroke="#a58ccc" stroke-width="0.9"/>
<line x1="173.62" y1="310.19" x2="179.02" y2="310.19" stroke="#a58ccc" stroke-width="0.9"/>
<line x1="173.62" y1="332.47" x2="179.02" y2="332.47" stroke="#a58ccc" stroke-width="0.9"/>
<line x1="207.60" y1="314.09" x2="207.60" y2="339.71" stroke="#a58ccc" stroke-width="0.9"/>
<line x1="204.90" y1="314.09" x2="210.30" y2="314.09" stroke="#a58ccc" stroke-width="0.9"/>
<line x1="204.90" y1="339.71" x2="210.30" y2="339.71" stroke="#a58ccc" stroke-width="0.9"/>
<polyline points="51.20,275.10 66.84,297.38 98.12,322.45 145.04,308.80 176.32,321.33 207.60,326.90" fill="none" stroke="#7446aa" stroke-width="1.15"/>
<polygon points="51.20,272.03 54.28,275.10 51.20,278.18 48.12,275.10" fill="#6c46a0" stroke="#1a1a1a" stroke-width="1.25"/>
<polygon points="66.84,294.31 69.92,297.38 66.84,300.45 63.77,297.38" fill="#6c46a0" stroke="#1a1a1a" stroke-width="1.25"/>
<polygon points="98.12,319.37 101.20,322.45 98.12,325.52 95.05,322.45" fill="#6c46a0" stroke="#1a1a1a" stroke-width="1.25"/>
<polygon points="145.04,305.72 148.12,308.80 145.04,311.87 141.97,308.80" fill="#6c46a0" stroke="#1a1a1a" stroke-width="1.25"/>
<polygon points="176.32,318.26 179.39,321.33 176.32,324.41 173.25,321.33" fill="#6c46a0" stroke="#1a1a1a" stroke-width="1.25"/>
<polygon points="207.60,323.83 210.68,326.90 207.60,329.98 204.53,326.90" fill="#6c46a0" stroke="#1a1a1a" stroke-width="1.25"/>
<line x1="66.84" y1="279.00" x2="66.84" y2="286.80" stroke="#333" stroke-width="0.9"/>
<line x1="64.14" y1="279.00" x2="69.54" y2="279.00" stroke="#333" stroke-width="0.9"/>
<line x1="64.14" y1="286.80" x2="69.54" y2="286.80" stroke="#333" stroke-width="0.9"/>
<line x1="98.12" y1="244.74" x2="98.12" y2="256.44" stroke="#333" stroke-width="0.9"/>
<line x1="95.42" y1="244.74" x2="100.82" y2="244.74" stroke="#333" stroke-width="0.9"/>
<line x1="95.42" y1="256.44" x2="100.82" y2="256.44" stroke="#333" stroke-width="0.9"/>
<line x1="145.04" y1="251.71" x2="145.04" y2="269.53" stroke="#333" stroke-width="0.9"/>
<line x1="142.34" y1="251.71" x2="147.74" y2="251.71" stroke="#333" stroke-width="0.9"/>
<line x1="142.34" y1="269.53" x2="147.74" y2="269.53" stroke="#333" stroke-width="0.9"/>
<line x1="176.32" y1="263.40" x2="176.32" y2="284.57" stroke="#333" stroke-width="0.9"/>
<line x1="173.62" y1="263.40" x2="179.02" y2="263.40" stroke="#333" stroke-width="0.9"/>
<line x1="173.62" y1="284.57" x2="179.02" y2="284.57" stroke="#333" stroke-width="0.9"/>
<line x1="207.60" y1="263.96" x2="207.60" y2="308.52" stroke="#333" stroke-width="0.9"/>
<line x1="204.90" y1="263.96" x2="210.30" y2="263.96" stroke="#333" stroke-width="0.9"/>
<line x1="204.90" y1="308.52" x2="210.30" y2="308.52" stroke="#333" stroke-width="0.9"/>
<polyline points="51.20,275.10 66.84,282.90 98.12,250.59 145.04,260.62 176.32,273.99 207.60,286.24" fill="none" stroke="#1a1a1a" stroke-width="1.15"/>
<polygon points="51.20,271.91 53.98,277.18 48.43,277.18" fill="#e8820e" stroke="#1a1a1a" stroke-width="1.25" stroke-linejoin="round"/>
<polygon points="66.84,279.71 69.62,284.98 64.06,284.98" fill="#e8820e" stroke="#1a1a1a" stroke-width="1.25" stroke-linejoin="round"/>
<polygon points="98.12,247.40 100.90,252.67 95.34,252.67" fill="#e8820e" stroke="#1a1a1a" stroke-width="1.25" stroke-linejoin="round"/>
<polygon points="145.04,257.43 147.82,262.70 142.27,262.70" fill="#e8820e" stroke="#1a1a1a" stroke-width="1.25" stroke-linejoin="round"/>
<polygon points="176.32,270.79 179.09,276.07 173.54,276.07" fill="#e8820e" stroke="#1a1a1a" stroke-width="1.25" stroke-linejoin="round"/>
<polygon points="207.60,283.05 210.38,288.32 204.83,288.32" fill="#e8820e" stroke="#1a1a1a" stroke-width="1.25" stroke-linejoin="round"/>
<line x1="66.84" y1="299.61" x2="66.84" y2="305.18" stroke="#333" stroke-width="0.9"/>
<line x1="64.14" y1="299.61" x2="69.54" y2="299.61" stroke="#333" stroke-width="0.9"/>
<line x1="64.14" y1="305.18" x2="69.54" y2="305.18" stroke="#333" stroke-width="0.9"/>
<line x1="98.12" y1="312.98" x2="98.12" y2="324.12" stroke="#333" stroke-width="0.9"/>
<line x1="95.42" y1="312.98" x2="100.82" y2="312.98" stroke="#333" stroke-width="0.9"/>
<line x1="95.42" y1="324.12" x2="100.82" y2="324.12" stroke="#333" stroke-width="0.9"/>
<line x1="145.04" y1="314.37" x2="145.04" y2="325.51" stroke="#333" stroke-width="0.9"/>
<line x1="142.34" y1="314.37" x2="147.74" y2="314.37" stroke="#333" stroke-width="0.9"/>
<line x1="142.34" y1="325.51" x2="147.74" y2="325.51" stroke="#333" stroke-width="0.9"/>
<line x1="176.32" y1="325.23" x2="176.32" y2="336.37" stroke="#333" stroke-width="0.9"/>
<line x1="173.62" y1="325.23" x2="179.02" y2="325.23" stroke="#333" stroke-width="0.9"/>
<line x1="173.62" y1="336.37" x2="179.02" y2="336.37" stroke="#333" stroke-width="0.9"/>
<line x1="207.60" y1="320.22" x2="207.60" y2="334.70" stroke="#333" stroke-width="0.9"/>
<line x1="204.90" y1="320.22" x2="210.30" y2="320.22" stroke="#333" stroke-width="0.9"/>
<line x1="204.90" y1="334.70" x2="210.30" y2="334.70" stroke="#333" stroke-width="0.9"/>
<polyline points="51.20,275.10 66.84,302.39 98.12,318.55 145.04,319.94 176.32,330.80 207.60,327.46" fill="none" stroke="#1a1a1a" stroke-width="1.15"/>
<rect x="48.58" y="272.48" width="5.25" height="5.25" fill="#4a7ec6" stroke="#1a1a1a" stroke-width="1.25"/>
<rect x="64.22" y="299.77" width="5.25" height="5.25" fill="#4a7ec6" stroke="#1a1a1a" stroke-width="1.25"/>
<rect x="95.50" y="315.92" width="5.25" height="5.25" fill="#4a7ec6" stroke="#1a1a1a" stroke-width="1.25"/>
<rect x="142.42" y="317.31" width="5.25" height="5.25" fill="#4a7ec6" stroke="#1a1a1a" stroke-width="1.25"/>
<rect x="173.69" y="328.18" width="5.25" height="5.25" fill="#4a7ec6" stroke="#1a1a1a" stroke-width="1.25"/>
<rect x="204.98" y="324.83" width="5.25" height="5.25" fill="#4a7ec6" stroke="#1a1a1a" stroke-width="1.25"/>
<line x1="66.84" y1="272.59" x2="66.84" y2="285.96" stroke="#333" stroke-width="0.95"/>
<line x1="64.14" y1="272.59" x2="69.54" y2="272.59" stroke="#333" stroke-width="0.95"/>
<line x1="64.14" y1="285.96" x2="69.54" y2="285.96" stroke="#333" stroke-width="0.95"/>
<line x1="98.12" y1="261.18" x2="98.12" y2="297.94" stroke="#333" stroke-width="0.95"/>
<line x1="95.42" y1="261.18" x2="100.82" y2="261.18" stroke="#333" stroke-width="0.95"/>
<line x1="95.42" y1="297.94" x2="100.82" y2="297.94" stroke="#333" stroke-width="0.95"/>
<line x1="145.04" y1="259.50" x2="145.04" y2="301.84" stroke="#333" stroke-width="0.95"/>
<line x1="142.34" y1="259.50" x2="147.74" y2="259.50" stroke="#333" stroke-width="0.95"/>
<line x1="142.34" y1="301.84" x2="147.74" y2="301.84" stroke="#333" stroke-width="0.95"/>
<line x1="176.32" y1="276.77" x2="176.32" y2="315.76" stroke="#333" stroke-width="0.95"/>
<line x1="173.62" y1="276.77" x2="179.02" y2="276.77" stroke="#333" stroke-width="0.95"/>
<line x1="173.62" y1="315.76" x2="179.02" y2="315.76" stroke="#333" stroke-width="0.95"/>
<line x1="207.60" y1="258.39" x2="207.60" y2="321.89" stroke="#333" stroke-width="0.95"/>
<line x1="204.90" y1="258.39" x2="210.30" y2="258.39" stroke="#333" stroke-width="0.95"/>
<line x1="204.90" y1="321.89" x2="210.30" y2="321.89" stroke="#333" stroke-width="0.95"/>
<polyline points="51.20,275.10 66.84,279.28 98.12,279.56 145.04,280.67 176.32,296.27 207.60,290.14" fill="none" stroke="#1a1a1a" stroke-width="1.15"/>
<circle cx="51.20" cy="275.10" r="2.83" fill="#fff" stroke="#1a1a1a" stroke-width="1.25"/>
<circle cx="66.84" cy="279.28" r="2.83" fill="#fff" stroke="#1a1a1a" stroke-width="1.25"/>
<circle cx="98.12" cy="279.56" r="2.83" fill="#fff" stroke="#1a1a1a" stroke-width="1.25"/>
<circle cx="145.04" cy="280.67" r="2.83" fill="#fff" stroke="#1a1a1a" stroke-width="1.25"/>
<circle cx="176.32" cy="296.27" r="2.83" fill="#fff" stroke="#1a1a1a" stroke-width="1.25"/>
<circle cx="207.60" cy="290.14" r="2.83" fill="#fff" stroke="#1a1a1a" stroke-width="1.25"/>
<path d="M64.84,311.95V314.65M63.67,312.62L66.01,313.98M63.67,313.98L66.01,312.62" stroke="#4a7ec6" stroke-width="1.0" fill="none"/>
<polyline points="67.34,314.80 68.84,311.70 70.34,314.80" fill="none" stroke="#4a7ec6" stroke-width="0.9"/>
<polyline points="94.62,340.50 96.12,337.40 97.62,340.50" fill="none" stroke="#4a7ec6" stroke-width="0.9"/>
<polyline points="98.62,340.50 100.12,337.40 101.62,340.50" fill="none" stroke="#8c3c9e" stroke-width="0.9"/>
<polyline points="143.54,332.40 145.04,329.30 146.54,332.40" fill="none" stroke="#4a7ec6" stroke-width="0.9"/>
<polyline points="174.82,346.00 176.32,342.90 177.82,346.00" fill="none" stroke="#4a7ec6" stroke-width="0.9"/>
<path d="M214.60,322.70V326.50M213.00,323.85H216.20M213.00,325.35H216.20" stroke="#8c3c9e" stroke-width="0.9" fill="none"/>
<path d="M214.60,326.90V330.70M213.00,328.05H216.20M213.00,329.55H216.20" stroke="#4a7ec6" stroke-width="0.9" fill="none"/>
<rect x="283.90" y="219.50" width="156.40" height="9.00" fill="#fff" stroke="#444" stroke-width="0.95"/>
<text x="360.70" y="225.90" font-size="6.2" text-anchor="middle" fill="#1a1a1a" font-weight="normal" textLength="51.5" lengthAdjust="spacingAndGlyphs">Semaglutide Dosing</text>
<rect x="297.84" y="228.50" width="79.70" height="8.20" fill="#fff" stroke="#555" stroke-width="0.95"/>
<text x="337.69" y="234.50" font-size="6.2" text-anchor="middle" fill="#1a1a1a" font-weight="normal" textLength="43" lengthAdjust="spacingAndGlyphs">Antibody Dosing</text>
<line x1="283.90" y1="219.50" x2="283.90" y2="359.20" stroke="#1a1a1a" stroke-width="1.3"/>
<line x1="283.30" y1="358.60" x2="440.90" y2="358.60" stroke="#1a1a1a" stroke-width="1.3"/>
<line x1="279.20" y1="219.40" x2="283.90" y2="219.40" stroke="#1a1a1a" stroke-width="1.2"/>
<text x="277.70" y="223.00" font-size="10.2" text-anchor="end" fill="#1a1a1a" font-weight="normal">150</text>
<line x1="279.20" y1="242.60" x2="283.90" y2="242.60" stroke="#1a1a1a" stroke-width="1.2"/>
<text x="277.70" y="246.20" font-size="10.2" text-anchor="end" fill="#1a1a1a" font-weight="normal">125</text>
<line x1="279.20" y1="265.80" x2="283.90" y2="265.80" stroke="#1a1a1a" stroke-width="1.2"/>
<text x="277.70" y="269.40" font-size="10.2" text-anchor="end" fill="#1a1a1a" font-weight="normal">100</text>
<line x1="279.20" y1="289.00" x2="283.90" y2="289.00" stroke="#1a1a1a" stroke-width="1.2"/>
<text x="277.70" y="292.60" font-size="10.2" text-anchor="end" fill="#1a1a1a" font-weight="normal">75</text>
<line x1="279.20" y1="312.20" x2="283.90" y2="312.20" stroke="#1a1a1a" stroke-width="1.2"/>
<text x="277.70" y="315.80" font-size="10.2" text-anchor="end" fill="#1a1a1a" font-weight="normal">50</text>
<line x1="279.20" y1="335.40" x2="283.90" y2="335.40" stroke="#1a1a1a" stroke-width="1.2"/>
<text x="277.70" y="339.00" font-size="10.2" text-anchor="end" fill="#1a1a1a" font-weight="normal">25</text>
<line x1="283.90" y1="358.60" x2="283.90" y2="363.30" stroke="#1a1a1a" stroke-width="1.2"/>
<text x="283.90" y="375.40" font-size="10.2" text-anchor="middle" fill="#1a1a1a" font-weight="normal">0</text>
<line x1="323.00" y1="358.60" x2="323.00" y2="363.30" stroke="#1a1a1a" stroke-width="1.2"/>
<text x="323.00" y="375.40" font-size="10.2" text-anchor="middle" fill="#1a1a1a" font-weight="normal">5</text>
<line x1="362.10" y1="358.60" x2="362.10" y2="363.30" stroke="#1a1a1a" stroke-width="1.2"/>
<text x="362.10" y="375.40" font-size="10.2" text-anchor="middle" fill="#1a1a1a" font-weight="normal">10</text>
<line x1="401.20" y1="358.60" x2="401.20" y2="363.30" stroke="#1a1a1a" stroke-width="1.2"/>
<text x="401.20" y="375.40" font-size="10.2" text-anchor="middle" fill="#1a1a1a" font-weight="normal">15</text>
<line x1="440.30" y1="358.60" x2="440.30" y2="363.30" stroke="#1a1a1a" stroke-width="1.2"/>
<text x="440.30" y="375.40" font-size="10.2" text-anchor="middle" fill="#1a1a1a" font-weight="normal">20</text>
<text x="362.10" y="386.80" font-size="10.5" text-anchor="middle" fill="#1a1a1a" font-weight="normal">Week</text>
<text x="239.50" y="286.80" font-size="10.5" text-anchor="middle" fill="#1a1a1a" font-weight="normal" transform="rotate(-90 239.5 286.8)">Total Fat</text>
<text x="253.00" y="285.80" font-size="10.5" text-anchor="middle" fill="#1a1a1a" font-weight="normal" transform="rotate(-90 253.0 285.8)">(% change from baseine)</text>
<text x="228.30" y="219.00" font-size="18.5" text-anchor="start" fill="#000" font-weight="bold">d</text>
<line x1="299.54" y1="267.66" x2="299.54" y2="271.37" stroke="#a58ccc" stroke-width="0.9"/>
<line x1="296.84" y1="267.66" x2="302.24" y2="267.66" stroke="#a58ccc" stroke-width="0.9"/>
<line x1="296.84" y1="271.37" x2="302.24" y2="271.37" stroke="#a58ccc" stroke-width="0.9"/>
<line x1="330.82" y1="289.28" x2="330.82" y2="298.56" stroke="#a58ccc" stroke-width="0.9"/>
<line x1="328.12" y1="289.28" x2="333.52" y2="289.28" stroke="#a58ccc" stroke-width="0.9"/>
<line x1="328.12" y1="298.56" x2="333.52" y2="298.56" stroke="#a58ccc" stroke-width="0.9"/>
<line x1="377.74" y1="294.75" x2="377.74" y2="302.92" stroke="#a58ccc" stroke-width="0.9"/>
<line x1="375.04" y1="294.75" x2="380.44" y2="294.75" stroke="#a58ccc" stroke-width="0.9"/>
<line x1="375.04" y1="302.92" x2="380.44" y2="302.92" stroke="#a58ccc" stroke-width="0.9"/>
<line x1="409.02" y1="303.66" x2="409.02" y2="311.83" stroke="#a58ccc" stroke-width="0.9"/>
<line x1="406.32" y1="303.66" x2="411.72" y2="303.66" stroke="#a58ccc" stroke-width="0.9"/>
<line x1="406.32" y1="311.83" x2="411.72" y2="311.83" stroke="#a58ccc" stroke-width="0.9"/>
<line x1="440.30" y1="306.08" x2="440.30" y2="314.80" stroke="#a58ccc" stroke-width="0.9"/>
<line x1="437.60" y1="306.08" x2="443.00" y2="306.08" stroke="#a58ccc" stroke-width="0.9"/>
<line x1="437.60" y1="314.80" x2="443.00" y2="314.80" stroke="#a58ccc" stroke-width="0.9"/>
<polyline points="283.90,265.80 299.54,269.51 330.82,293.92 377.74,298.84 409.02,307.75 440.30,310.44" fill="none" stroke="#7446aa" stroke-width="1.15"/>
<polygon points="283.90,262.73 286.97,265.80 283.90,268.88 280.82,265.80" fill="#6c46a0" stroke="#1a1a1a" stroke-width="1.25"/>
<polygon points="299.54,266.44 302.61,269.51 299.54,272.59 296.46,269.51" fill="#6c46a0" stroke="#1a1a1a" stroke-width="1.25"/>
<polygon points="330.82,290.84 333.89,293.92 330.82,296.99 327.75,293.92" fill="#6c46a0" stroke="#1a1a1a" stroke-width="1.25"/>
<polygon points="377.74,295.76 380.81,298.84 377.74,301.91 374.67,298.84" fill="#6c46a0" stroke="#1a1a1a" stroke-width="1.25"/>
<polygon points="409.02,304.67 412.09,307.75 409.02,310.82 405.94,307.75" fill="#6c46a0" stroke="#1a1a1a" stroke-width="1.25"/>
<polygon points="440.30,307.36 443.37,310.44 440.30,313.51 437.22,310.44" fill="#6c46a0" stroke="#1a1a1a" stroke-width="1.25"/>
<line x1="299.54" y1="263.48" x2="299.54" y2="267.19" stroke="#333" stroke-width="0.9"/>
<line x1="296.84" y1="263.48" x2="302.24" y2="263.48" stroke="#333" stroke-width="0.9"/>
<line x1="296.84" y1="267.19" x2="302.24" y2="267.19" stroke="#333" stroke-width="0.9"/>
<line x1="330.82" y1="263.39" x2="330.82" y2="270.81" stroke="#333" stroke-width="0.9"/>
<line x1="328.12" y1="263.39" x2="333.52" y2="263.39" stroke="#333" stroke-width="0.9"/>
<line x1="328.12" y1="270.81" x2="333.52" y2="270.81" stroke="#333" stroke-width="0.9"/>
<line x1="377.74" y1="274.15" x2="377.74" y2="281.58" stroke="#333" stroke-width="0.9"/>
<line x1="375.04" y1="274.15" x2="380.44" y2="274.15" stroke="#333" stroke-width="0.9"/>
<line x1="375.04" y1="281.58" x2="380.44" y2="281.58" stroke="#333" stroke-width="0.9"/>
<line x1="409.02" y1="284.36" x2="409.02" y2="291.78" stroke="#333" stroke-width="0.9"/>
<line x1="406.32" y1="284.36" x2="411.72" y2="284.36" stroke="#333" stroke-width="0.9"/>
<line x1="406.32" y1="291.78" x2="411.72" y2="291.78" stroke="#333" stroke-width="0.9"/>
<line x1="440.30" y1="291.97" x2="440.30" y2="299.39" stroke="#333" stroke-width="0.9"/>
<line x1="437.60" y1="291.97" x2="443.00" y2="291.97" stroke="#333" stroke-width="0.9"/>
<line x1="437.60" y1="299.39" x2="443.00" y2="299.39" stroke="#333" stroke-width="0.9"/>
<polyline points="283.90,265.80 299.54,265.34 330.82,267.10 377.74,277.86 409.02,288.07 440.30,295.68" fill="none" stroke="#1a1a1a" stroke-width="1.15"/>
<polygon points="283.90,262.61 286.67,267.88 281.12,267.88" fill="#e8820e" stroke="#1a1a1a" stroke-width="1.25" stroke-linejoin="round"/>
<polygon points="299.54,262.14 302.31,267.42 296.76,267.42" fill="#e8820e" stroke="#1a1a1a" stroke-width="1.25" stroke-linejoin="round"/>
<polygon points="330.82,263.91 333.59,269.18 328.05,269.18" fill="#e8820e" stroke="#1a1a1a" stroke-width="1.25" stroke-linejoin="round"/>
<polygon points="377.74,274.67 380.51,279.95 374.97,279.95" fill="#e8820e" stroke="#1a1a1a" stroke-width="1.25" stroke-linejoin="round"/>
<polygon points="409.02,284.88 411.79,290.15 406.25,290.15" fill="#e8820e" stroke="#1a1a1a" stroke-width="1.25" stroke-linejoin="round"/>
<polygon points="440.30,292.49 443.07,297.76 437.52,297.76" fill="#e8820e" stroke="#1a1a1a" stroke-width="1.25" stroke-linejoin="round"/>
<line x1="299.54" y1="268.21" x2="299.54" y2="271.55" stroke="#333" stroke-width="0.9"/>
<line x1="296.84" y1="268.21" x2="302.24" y2="268.21" stroke="#333" stroke-width="0.9"/>
<line x1="296.84" y1="271.55" x2="302.24" y2="271.55" stroke="#333" stroke-width="0.9"/>
<line x1="330.82" y1="278.70" x2="330.82" y2="285.94" stroke="#333" stroke-width="0.9"/>
<line x1="328.12" y1="278.70" x2="333.52" y2="278.70" stroke="#333" stroke-width="0.9"/>
<line x1="328.12" y1="285.94" x2="333.52" y2="285.94" stroke="#333" stroke-width="0.9"/>
<line x1="377.74" y1="277.68" x2="377.74" y2="284.92" stroke="#333" stroke-width="0.9"/>
<line x1="375.04" y1="277.68" x2="380.44" y2="277.68" stroke="#333" stroke-width="0.9"/>
<line x1="375.04" y1="284.92" x2="380.44" y2="284.92" stroke="#333" stroke-width="0.9"/>
<line x1="409.02" y1="286.12" x2="409.02" y2="292.80" stroke="#333" stroke-width="0.9"/>
<line x1="406.32" y1="286.12" x2="411.72" y2="286.12" stroke="#333" stroke-width="0.9"/>
<line x1="406.32" y1="292.80" x2="411.72" y2="292.80" stroke="#333" stroke-width="0.9"/>
<line x1="440.30" y1="288.26" x2="440.30" y2="294.94" stroke="#333" stroke-width="0.9"/>
<line x1="437.60" y1="288.26" x2="443.00" y2="288.26" stroke="#333" stroke-width="0.9"/>
<line x1="437.60" y1="294.94" x2="443.00" y2="294.94" stroke="#333" stroke-width="0.9"/>
<polyline points="283.90,265.80 299.54,269.88 330.82,282.32 377.74,281.30 409.02,289.46 440.30,291.60" fill="none" stroke="#1a1a1a" stroke-width="1.15"/>
<rect x="281.27" y="263.18" width="5.25" height="5.25" fill="#4a7ec6" stroke="#1a1a1a" stroke-width="1.25"/>
<rect x="296.91" y="267.26" width="5.25" height="5.25" fill="#4a7ec6" stroke="#1a1a1a" stroke-width="1.25"/>
<rect x="328.19" y="279.69" width="5.25" height="5.25" fill="#4a7ec6" stroke="#1a1a1a" stroke-width="1.25"/>
<rect x="375.12" y="278.67" width="5.25" height="5.25" fill="#4a7ec6" stroke="#1a1a1a" stroke-width="1.25"/>
<rect x="406.39" y="286.84" width="5.25" height="5.25" fill="#4a7ec6" stroke="#1a1a1a" stroke-width="1.25"/>
<rect x="437.67" y="288.97" width="5.25" height="5.25" fill="#4a7ec6" stroke="#1a1a1a" stroke-width="1.25"/>
<line x1="299.54" y1="260.88" x2="299.54" y2="268.31" stroke="#555" stroke-width="1.0"/>
<line x1="296.84" y1="260.88" x2="302.24" y2="260.88" stroke="#555" stroke-width="1.0"/>
<line x1="296.84" y1="268.31" x2="302.24" y2="268.31" stroke="#555" stroke-width="1.0"/>
<line x1="330.82" y1="252.72" x2="330.82" y2="274.06" stroke="#555" stroke-width="1.0"/>
<line x1="328.12" y1="252.72" x2="333.52" y2="252.72" stroke="#555" stroke-width="1.0"/>
<line x1="328.12" y1="274.06" x2="333.52" y2="274.06" stroke="#555" stroke-width="1.0"/>
<line x1="377.74" y1="245.48" x2="377.74" y2="279.81" stroke="#555" stroke-width="1.0"/>
<line x1="375.04" y1="245.48" x2="380.44" y2="245.48" stroke="#555" stroke-width="1.0"/>
<line x1="375.04" y1="279.81" x2="380.44" y2="279.81" stroke="#555" stroke-width="1.0"/>
<line x1="409.02" y1="249.84" x2="409.02" y2="286.03" stroke="#555" stroke-width="1.0"/>
<line x1="406.32" y1="249.84" x2="411.72" y2="249.84" stroke="#555" stroke-width="1.0"/>
<line x1="406.32" y1="286.03" x2="411.72" y2="286.03" stroke="#555" stroke-width="1.0"/>
<line x1="440.30" y1="250.21" x2="440.30" y2="288.26" stroke="#555" stroke-width="1.0"/>
<line x1="437.60" y1="250.21" x2="443.00" y2="250.21" stroke="#555" stroke-width="1.0"/>
<line x1="437.60" y1="288.26" x2="443.00" y2="288.26" stroke="#555" stroke-width="1.0"/>
<polyline points="283.90,265.80 299.54,264.59 330.82,263.39 377.74,262.64 409.02,267.93 440.30,269.23" fill="none" stroke="#1a1a1a" stroke-width="1.15"/>
<circle cx="283.90" cy="265.80" r="2.83" fill="#fff" stroke="#1a1a1a" stroke-width="1.25"/>
<circle cx="299.54" cy="264.59" r="2.83" fill="#fff" stroke="#1a1a1a" stroke-width="1.25"/>
<circle cx="330.82" cy="263.39" r="2.83" fill="#fff" stroke="#1a1a1a" stroke-width="1.25"/>
<circle cx="377.74" cy="262.64" r="2.83" fill="#fff" stroke="#1a1a1a" stroke-width="1.25"/>
<circle cx="409.02" cy="267.93" r="2.83" fill="#fff" stroke="#1a1a1a" stroke-width="1.25"/>
<circle cx="440.30" cy="269.23" r="2.83" fill="#fff" stroke="#1a1a1a" stroke-width="1.25"/>
<polyline points="327.32,306.10 328.82,303.00 330.32,306.10" fill="none" stroke="#4a7ec6" stroke-width="0.9"/>
<polyline points="331.32,306.10 332.82,303.00 334.32,306.10" fill="none" stroke="#8c3c9e" stroke-width="0.9"/>
<polyline points="376.24,310.00 377.74,306.90 379.24,310.00" fill="none" stroke="#8c3c9e" stroke-width="0.9"/>
<polyline points="407.52,319.50 409.02,316.40 410.52,319.50" fill="none" stroke="#8c3c9e" stroke-width="0.9"/>
<text x="440.30" y="323.80" font-size="8.5" text-anchor="middle" fill="#8c3c9e" font-weight="normal">#</text>
<path d="M447.20,289.10V292.90M445.60,290.25H448.80M445.60,291.75H448.80" stroke="#4a7ec6" stroke-width="0.9" fill="none"/>
<path d="M447.20,293.70V297.50M445.60,294.85H448.80M445.60,296.35H448.80" stroke="#e8820e" stroke-width="0.9" fill="none"/>
<path d="M446.80,308.80V313.20M444.60,311.00H449.00" stroke="#9c3aa6" stroke-width="0.95" fill="none"/>
<rect x="520.30" y="219.40" width="155.00" height="7.60" fill="#fff" stroke="#444" stroke-width="0.95"/>
<text x="596.40" y="225.10" font-size="6.2" text-anchor="middle" fill="#1a1a1a" font-weight="normal" textLength="51.5" lengthAdjust="spacingAndGlyphs">Semaglutide Dosing</text>
<rect x="533.80" y="227.00" width="79.30" height="9.30" fill="#fff" stroke="#555" stroke-width="0.95"/>
<text x="573.45" y="233.55" font-size="6.2" text-anchor="middle" fill="#1a1a1a" font-weight="normal" textLength="43" lengthAdjust="spacingAndGlyphs">Antibody Dosing</text>
<line x1="520.30" y1="219.30" x2="520.30" y2="357.60" stroke="#1a1a1a" stroke-width="1.3"/>
<line x1="519.70" y1="357.00" x2="675.90" y2="357.00" stroke="#1a1a1a" stroke-width="1.3"/>
<line x1="515.60" y1="218.90" x2="520.30" y2="218.90" stroke="#1a1a1a" stroke-width="1.2"/>
<text x="514.10" y="222.50" font-size="10.2" text-anchor="end" fill="#1a1a1a" font-weight="normal">115</text>
<line x1="515.60" y1="246.40" x2="520.30" y2="246.40" stroke="#1a1a1a" stroke-width="1.2"/>
<text x="514.10" y="250.00" font-size="10.2" text-anchor="end" fill="#1a1a1a" font-weight="normal">110</text>
<line x1="515.60" y1="273.90" x2="520.30" y2="273.90" stroke="#1a1a1a" stroke-width="1.2"/>
<text x="514.10" y="277.50" font-size="10.2" text-anchor="end" fill="#1a1a1a" font-weight="normal">105</text>
<line x1="515.60" y1="301.40" x2="520.30" y2="301.40" stroke="#1a1a1a" stroke-width="1.2"/>
<text x="514.10" y="305.00" font-size="10.2" text-anchor="end" fill="#1a1a1a" font-weight="normal">100</text>
<line x1="515.60" y1="328.90" x2="520.30" y2="328.90" stroke="#1a1a1a" stroke-width="1.2"/>
<text x="514.10" y="332.50" font-size="10.2" text-anchor="end" fill="#1a1a1a" font-weight="normal">95</text>
<line x1="515.60" y1="356.40" x2="520.30" y2="356.40" stroke="#1a1a1a" stroke-width="1.2"/>
<text x="514.10" y="360.00" font-size="10.2" text-anchor="end" fill="#1a1a1a" font-weight="normal">90</text>
<line x1="520.30" y1="357.00" x2="520.30" y2="361.70" stroke="#1a1a1a" stroke-width="1.2"/>
<text x="520.30" y="373.80" font-size="10.2" text-anchor="middle" fill="#1a1a1a" font-weight="normal">0</text>
<line x1="559.05" y1="357.00" x2="559.05" y2="361.70" stroke="#1a1a1a" stroke-width="1.2"/>
<text x="559.05" y="373.80" font-size="10.2" text-anchor="middle" fill="#1a1a1a" font-weight="normal">5</text>
<line x1="597.80" y1="357.00" x2="597.80" y2="361.70" stroke="#1a1a1a" stroke-width="1.2"/>
<text x="597.80" y="373.80" font-size="10.2" text-anchor="middle" fill="#1a1a1a" font-weight="normal">10</text>
<line x1="636.55" y1="357.00" x2="636.55" y2="361.70" stroke="#1a1a1a" stroke-width="1.2"/>
<text x="636.55" y="373.80" font-size="10.2" text-anchor="middle" fill="#1a1a1a" font-weight="normal">15</text>
<line x1="675.30" y1="357.00" x2="675.30" y2="361.70" stroke="#1a1a1a" stroke-width="1.2"/>
<text x="675.30" y="373.80" font-size="10.2" text-anchor="middle" fill="#1a1a1a" font-weight="normal">20</text>
<text x="597.80" y="385.20" font-size="10.5" text-anchor="middle" fill="#1a1a1a" font-weight="normal">Week</text>
<text x="476.90" y="285.70" font-size="10.5" text-anchor="middle" fill="#1a1a1a" font-weight="normal" transform="rotate(-90 476.9 285.7)">Total Lean</text>
<text x="490.30" y="285.70" font-size="10.5" text-anchor="middle" fill="#1a1a1a" font-weight="normal" transform="rotate(-90 490.3 285.7)">(% change from baseline)</text>
<text x="456.50" y="219.50" font-size="18.5" text-anchor="start" fill="#000" font-weight="bold">e</text>
<line x1="535.80" y1="321.75" x2="535.80" y2="330.55" stroke="#a58ccc" stroke-width="0.9"/>
<line x1="533.10" y1="321.75" x2="538.50" y2="321.75" stroke="#a58ccc" stroke-width="0.9"/>
<line x1="533.10" y1="330.55" x2="538.50" y2="330.55" stroke="#a58ccc" stroke-width="0.9"/>
<line x1="566.80" y1="289.30" x2="566.80" y2="309.10" stroke="#a58ccc" stroke-width="0.9"/>
<line x1="564.10" y1="289.30" x2="569.50" y2="289.30" stroke="#a58ccc" stroke-width="0.9"/>
<line x1="564.10" y1="309.10" x2="569.50" y2="309.10" stroke="#a58ccc" stroke-width="0.9"/>
<line x1="613.30" y1="259.05" x2="613.30" y2="275.55" stroke="#a58ccc" stroke-width="0.9"/>
<line x1="610.60" y1="259.05" x2="616.00" y2="259.05" stroke="#a58ccc" stroke-width="0.9"/>
<line x1="610.60" y1="275.55" x2="616.00" y2="275.55" stroke="#a58ccc" stroke-width="0.9"/>
<line x1="644.30" y1="256.85" x2="644.30" y2="275.55" stroke="#a58ccc" stroke-width="0.9"/>
<line x1="641.60" y1="256.85" x2="647.00" y2="256.85" stroke="#a58ccc" stroke-width="0.9"/>
<line x1="641.60" y1="275.55" x2="647.00" y2="275.55" stroke="#a58ccc" stroke-width="0.9"/>
<line x1="675.30" y1="259.60" x2="675.30" y2="275.00" stroke="#a58ccc" stroke-width="0.9"/>
<line x1="672.60" y1="259.60" x2="678.00" y2="259.60" stroke="#a58ccc" stroke-width="0.9"/>
<line x1="672.60" y1="275.00" x2="678.00" y2="275.00" stroke="#a58ccc" stroke-width="0.9"/>
<polyline points="520.30,301.40 535.80,326.15 566.80,299.20 613.30,267.30 644.30,266.20 675.30,267.30" fill="none" stroke="#7446aa" stroke-width="1.15"/>
<polygon points="520.30,298.32 523.38,301.40 520.30,304.47 517.22,301.40" fill="#6c46a0" stroke="#1a1a1a" stroke-width="1.25"/>
<polygon points="535.80,323.07 538.88,326.15 535.80,329.22 532.72,326.15" fill="#6c46a0" stroke="#1a1a1a" stroke-width="1.25"/>
<polygon points="566.80,296.12 569.88,299.20 566.80,302.27 563.72,299.20" fill="#6c46a0" stroke="#1a1a1a" stroke-width="1.25"/>
<polygon points="613.30,264.22 616.38,267.30 613.30,270.37 610.22,267.30" fill="#6c46a0" stroke="#1a1a1a" stroke-width="1.25"/>
<polygon points="644.30,263.12 647.38,266.20 644.30,269.27 641.22,266.20" fill="#6c46a0" stroke="#1a1a1a" stroke-width="1.25"/>
<polygon points="675.30,264.22 678.38,267.30 675.30,270.37 672.22,267.30" fill="#6c46a0" stroke="#1a1a1a" stroke-width="1.25"/>
<line x1="535.80" y1="310.20" x2="535.80" y2="319.00" stroke="#333" stroke-width="0.9"/>
<line x1="533.10" y1="310.20" x2="538.50" y2="310.20" stroke="#333" stroke-width="0.9"/>
<line x1="533.10" y1="319.00" x2="538.50" y2="319.00" stroke="#333" stroke-width="0.9"/>
<line x1="566.80" y1="257.67" x2="566.80" y2="273.62" stroke="#333" stroke-width="0.9"/>
<line x1="564.10" y1="257.67" x2="569.50" y2="257.67" stroke="#333" stroke-width="0.9"/>
<line x1="564.10" y1="273.62" x2="569.50" y2="273.62" stroke="#333" stroke-width="0.9"/>
<line x1="613.30" y1="245.85" x2="613.30" y2="268.95" stroke="#333" stroke-width="0.9"/>
<line x1="610.60" y1="245.85" x2="616.00" y2="245.85" stroke="#333" stroke-width="0.9"/>
<line x1="610.60" y1="268.95" x2="616.00" y2="268.95" stroke="#333" stroke-width="0.9"/>
<line x1="644.30" y1="240.90" x2="644.30" y2="267.30" stroke="#333" stroke-width="0.9"/>
<line x1="641.60" y1="240.90" x2="647.00" y2="240.90" stroke="#333" stroke-width="0.9"/>
<line x1="641.60" y1="267.30" x2="647.00" y2="267.30" stroke="#333" stroke-width="0.9"/>
<line x1="675.30" y1="238.15" x2="675.30" y2="272.25" stroke="#333" stroke-width="0.9"/>
<line x1="672.60" y1="238.15" x2="678.00" y2="238.15" stroke="#333" stroke-width="0.9"/>
<line x1="672.60" y1="272.25" x2="678.00" y2="272.25" stroke="#333" stroke-width="0.9"/>
<polyline points="520.30,301.40 535.80,314.60 566.80,265.65 613.30,257.40 644.30,254.10 675.30,255.20" fill="none" stroke="#1a1a1a" stroke-width="1.15"/>
<polygon points="520.30,298.21 523.07,303.48 517.52,303.48" fill="#e8820e" stroke="#1a1a1a" stroke-width="1.25" stroke-linejoin="round"/>
<polygon points="535.80,311.41 538.57,316.68 533.02,316.68" fill="#e8820e" stroke="#1a1a1a" stroke-width="1.25" stroke-linejoin="round"/>
<polygon points="566.80,262.46 569.57,267.73 564.02,267.73" fill="#e8820e" stroke="#1a1a1a" stroke-width="1.25" stroke-linejoin="round"/>
<polygon points="613.30,254.21 616.07,259.48 610.52,259.48" fill="#e8820e" stroke="#1a1a1a" stroke-width="1.25" stroke-linejoin="round"/>
<polygon points="644.30,250.91 647.07,256.18 641.52,256.18" fill="#e8820e" stroke="#1a1a1a" stroke-width="1.25" stroke-linejoin="round"/>
<polygon points="675.30,252.01 678.07,257.28 672.52,257.28" fill="#e8820e" stroke="#1a1a1a" stroke-width="1.25" stroke-linejoin="round"/>
<line x1="535.80" y1="326.70" x2="535.80" y2="336.60" stroke="#333" stroke-width="0.9"/>
<line x1="533.10" y1="326.70" x2="538.50" y2="326.70" stroke="#333" stroke-width="0.9"/>
<line x1="533.10" y1="336.60" x2="538.50" y2="336.60" stroke="#333" stroke-width="0.9"/>
<line x1="566.80" y1="319.00" x2="566.80" y2="328.90" stroke="#333" stroke-width="0.9"/>
<line x1="564.10" y1="319.00" x2="569.50" y2="319.00" stroke="#333" stroke-width="0.9"/>
<line x1="564.10" y1="328.90" x2="569.50" y2="328.90" stroke="#333" stroke-width="0.9"/>
<line x1="613.30" y1="323.40" x2="613.30" y2="332.20" stroke="#333" stroke-width="0.9"/>
<line x1="610.60" y1="323.40" x2="616.00" y2="323.40" stroke="#333" stroke-width="0.9"/>
<line x1="610.60" y1="332.20" x2="616.00" y2="332.20" stroke="#333" stroke-width="0.9"/>
<line x1="644.30" y1="321.20" x2="644.30" y2="330.00" stroke="#333" stroke-width="0.9"/>
<line x1="641.60" y1="321.20" x2="647.00" y2="321.20" stroke="#333" stroke-width="0.9"/>
<line x1="641.60" y1="330.00" x2="647.00" y2="330.00" stroke="#333" stroke-width="0.9"/>
<line x1="675.30" y1="311.85" x2="675.30" y2="319.55" stroke="#333" stroke-width="0.9"/>
<line x1="672.60" y1="311.85" x2="678.00" y2="311.85" stroke="#333" stroke-width="0.9"/>
<line x1="672.60" y1="319.55" x2="678.00" y2="319.55" stroke="#333" stroke-width="0.9"/>
<polyline points="520.30,301.40 535.80,331.65 566.80,323.95 613.30,327.80 644.30,325.60 675.30,315.70" fill="none" stroke="#1a1a1a" stroke-width="1.15"/>
<rect x="517.67" y="298.77" width="5.25" height="5.25" fill="#4a7ec6" stroke="#1a1a1a" stroke-width="1.25"/>
<rect x="533.17" y="329.02" width="5.25" height="5.25" fill="#4a7ec6" stroke="#1a1a1a" stroke-width="1.25"/>
<rect x="564.17" y="321.32" width="5.25" height="5.25" fill="#4a7ec6" stroke="#1a1a1a" stroke-width="1.25"/>
<rect x="610.67" y="325.17" width="5.25" height="5.25" fill="#4a7ec6" stroke="#1a1a1a" stroke-width="1.25"/>
<rect x="641.67" y="322.98" width="5.25" height="5.25" fill="#4a7ec6" stroke="#1a1a1a" stroke-width="1.25"/>
<rect x="672.67" y="313.07" width="5.25" height="5.25" fill="#4a7ec6" stroke="#1a1a1a" stroke-width="1.25"/>
<line x1="535.80" y1="305.25" x2="535.80" y2="316.25" stroke="#333" stroke-width="0.95"/>
<line x1="533.10" y1="305.25" x2="538.50" y2="305.25" stroke="#333" stroke-width="0.95"/>
<line x1="533.10" y1="316.25" x2="538.50" y2="316.25" stroke="#333" stroke-width="0.95"/>
<line x1="566.80" y1="290.95" x2="566.80" y2="310.75" stroke="#333" stroke-width="0.95"/>
<line x1="564.10" y1="290.95" x2="569.50" y2="290.95" stroke="#333" stroke-width="0.95"/>
<line x1="564.10" y1="310.75" x2="569.50" y2="310.75" stroke="#333" stroke-width="0.95"/>
<line x1="613.30" y1="289.85" x2="613.30" y2="309.65" stroke="#333" stroke-width="0.95"/>
<line x1="610.60" y1="289.85" x2="616.00" y2="289.85" stroke="#333" stroke-width="0.95"/>
<line x1="610.60" y1="309.65" x2="616.00" y2="309.65" stroke="#333" stroke-width="0.95"/>
<line x1="644.30" y1="295.90" x2="644.30" y2="324.50" stroke="#333" stroke-width="0.95"/>
<line x1="641.60" y1="295.90" x2="647.00" y2="295.90" stroke="#333" stroke-width="0.95"/>
<line x1="641.60" y1="324.50" x2="647.00" y2="324.50" stroke="#333" stroke-width="0.95"/>
<line x1="675.30" y1="286.83" x2="675.30" y2="317.62" stroke="#333" stroke-width="0.95"/>
<line x1="672.60" y1="286.83" x2="678.00" y2="286.83" stroke="#333" stroke-width="0.95"/>
<line x1="672.60" y1="317.62" x2="678.00" y2="317.62" stroke="#333" stroke-width="0.95"/>
<polyline points="520.30,301.40 535.80,310.75 566.80,300.85 613.30,299.75 644.30,310.20 675.30,302.23" fill="none" stroke="#1a1a1a" stroke-width="1.15"/>
<circle cx="520.30" cy="301.40" r="2.83" fill="#fff" stroke="#1a1a1a" stroke-width="1.25"/>
<circle cx="535.80" cy="310.75" r="2.83" fill="#fff" stroke="#1a1a1a" stroke-width="1.25"/>
<circle cx="566.80" cy="300.85" r="2.83" fill="#fff" stroke="#1a1a1a" stroke-width="1.25"/>
<circle cx="613.30" cy="299.75" r="2.83" fill="#fff" stroke="#1a1a1a" stroke-width="1.25"/>
<circle cx="644.30" cy="310.20" r="2.83" fill="#fff" stroke="#1a1a1a" stroke-width="1.25"/>
<circle cx="675.30" cy="302.23" r="2.83" fill="#fff" stroke="#1a1a1a" stroke-width="1.25"/>
<path d="M564.80,332.35V335.05M563.63,333.02L565.97,334.38M563.63,334.38L565.97,333.02" stroke="#e8820e" stroke-width="1.0" fill="none"/>
<polyline points="567.30,335.20 568.80,332.10 570.30,335.20" fill="none" stroke="#4a7ec6" stroke-width="0.9"/>
<polyline points="611.50,340.20 613.00,337.10 614.50,340.20" fill="none" stroke="#4a7ec6" stroke-width="0.9"/>
<text x="616.90" y="341.30" font-size="7.5" text-anchor="middle" fill="#4a7ec6" font-weight="normal">$</text>
<polyline points="642.50,336.90 644.00,333.80 645.50,336.90" fill="none" stroke="#4a7ec6" stroke-width="0.9"/>
<text x="647.90" y="338.00" font-size="7.5" text-anchor="middle" fill="#4a7ec6" font-weight="normal">$</text>
<polyline points="673.50,325.70 675.00,322.60 676.50,325.70" fill="none" stroke="#4a7ec6" stroke-width="0.9"/>
<text x="678.90" y="326.80" font-size="7.5" text-anchor="middle" fill="#4a7ec6" font-weight="normal">$</text>
<path d="M682.00,265.20V269.60M679.80,267.40H684.20" stroke="#9c3aa6" stroke-width="0.95" fill="none"/>
</svg></body></html>
